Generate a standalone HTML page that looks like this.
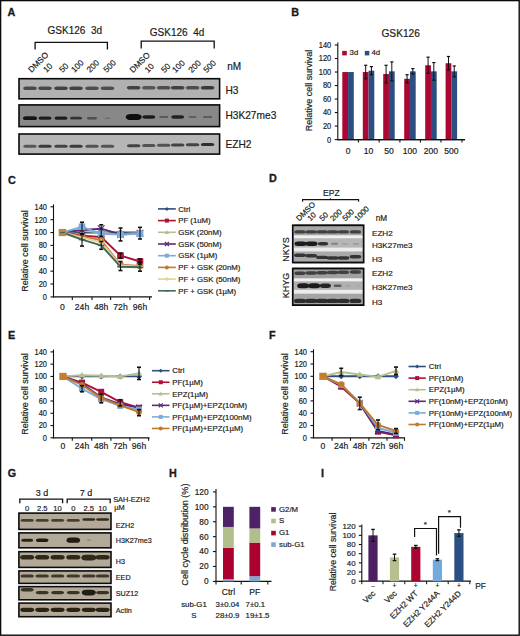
<!DOCTYPE html>
<html><head><meta charset="utf-8"><style>
html,body{margin:0;padding:0;background:#fff;}
svg{display:block;}
text{font-family:"Liberation Sans", sans-serif;}
</style></head><body>
<svg width="520" height="636" viewBox="0 0 520 636" font-family="Liberation Sans, sans-serif">
<defs><filter id="b1" x="-50%" y="-100%" width="200%" height="300%"><feGaussianBlur stdDeviation="0.6"/></filter></defs>
<rect x="0" y="0" width="520" height="636" fill="#fff"/>
<text x="7.60" y="16.30" font-size="10.8" font-weight="700" text-anchor="start" fill="#1a1a1a" stroke="#1a1a1a" stroke-width="0.3">A</text>
<text x="47.60" y="33.80" font-size="10.0" font-weight="400" text-anchor="start" fill="#1a1a1a" stroke="#1a1a1a" stroke-width="0.18">GSK126  3d</text>
<text x="149.80" y="36.20" font-size="10.0" font-weight="400" text-anchor="start" fill="#1a1a1a" stroke="#1a1a1a" stroke-width="0.18">GSK126  4d</text>
<path d="M35.1,49.4 V42.3 H107.4 V49.4" stroke="#111" stroke-width="1.3" fill="none"/>
<path d="M141.2,48.6 V41.2 H214.2 V48.6" stroke="#111" stroke-width="1.3" fill="none"/>
<text x="0.00" y="0.00" font-size="8.3" font-weight="400" text-anchor="start" fill="#1a1a1a" stroke="#1a1a1a" stroke-width="0.18" transform="translate(31.40,73.10) rotate(-45)">DMSO</text>
<text x="0.00" y="0.00" font-size="8.3" font-weight="400" text-anchor="start" fill="#1a1a1a" stroke="#1a1a1a" stroke-width="0.18" transform="translate(46.40,73.10) rotate(-45)">10</text>
<text x="0.00" y="0.00" font-size="8.3" font-weight="400" text-anchor="start" fill="#1a1a1a" stroke="#1a1a1a" stroke-width="0.18" transform="translate(62.40,73.10) rotate(-45)">50</text>
<text x="0.00" y="0.00" font-size="8.3" font-weight="400" text-anchor="start" fill="#1a1a1a" stroke="#1a1a1a" stroke-width="0.18" transform="translate(74.40,73.10) rotate(-45)">100</text>
<text x="0.00" y="0.00" font-size="8.3" font-weight="400" text-anchor="start" fill="#1a1a1a" stroke="#1a1a1a" stroke-width="0.18" transform="translate(89.90,73.10) rotate(-45)">200</text>
<text x="0.00" y="0.00" font-size="8.3" font-weight="400" text-anchor="start" fill="#1a1a1a" stroke="#1a1a1a" stroke-width="0.18" transform="translate(106.70,73.10) rotate(-45)">500</text>
<text x="0.00" y="0.00" font-size="8.3" font-weight="400" text-anchor="start" fill="#1a1a1a" stroke="#1a1a1a" stroke-width="0.18" transform="translate(132.90,73.30) rotate(-45)">DMSO</text>
<text x="0.00" y="0.00" font-size="8.3" font-weight="400" text-anchor="start" fill="#1a1a1a" stroke="#1a1a1a" stroke-width="0.18" transform="translate(148.00,73.30) rotate(-45)">10</text>
<text x="0.00" y="0.00" font-size="8.3" font-weight="400" text-anchor="start" fill="#1a1a1a" stroke="#1a1a1a" stroke-width="0.18" transform="translate(164.60,73.30) rotate(-45)">50</text>
<text x="0.00" y="0.00" font-size="8.3" font-weight="400" text-anchor="start" fill="#1a1a1a" stroke="#1a1a1a" stroke-width="0.18" transform="translate(175.60,73.30) rotate(-45)">100</text>
<text x="0.00" y="0.00" font-size="8.3" font-weight="400" text-anchor="start" fill="#1a1a1a" stroke="#1a1a1a" stroke-width="0.18" transform="translate(191.80,73.30) rotate(-45)">200</text>
<text x="0.00" y="0.00" font-size="8.3" font-weight="400" text-anchor="start" fill="#1a1a1a" stroke="#1a1a1a" stroke-width="0.18" transform="translate(206.80,73.30) rotate(-45)">500</text>
<text x="227.20" y="69.50" font-size="10" font-weight="400" text-anchor="start" fill="#1a1a1a" stroke="#1a1a1a" stroke-width="0.18">nM</text>
<rect x="19.00" y="78.70" width="200.60" height="20.10" fill="#b1b1b1" stroke="#0a0a0a" stroke-width="1.6"/>
<rect x="19.00" y="104.90" width="200.60" height="21.70" fill="#888888" stroke="#0a0a0a" stroke-width="1.6"/>
<rect x="19.00" y="134.00" width="200.60" height="20.10" fill="#b6b6b6" stroke="#0a0a0a" stroke-width="1.6"/>
<rect x="23.25" y="86.40" width="13.50" height="3.60" rx="2.88" ry="1.80" fill="#2e2e2e" fill-opacity="0.80" filter="url(#b1)"/>
<rect x="38.25" y="86.40" width="13.50" height="3.60" rx="2.88" ry="1.80" fill="#2e2e2e" fill-opacity="0.80" filter="url(#b1)"/>
<rect x="54.25" y="86.40" width="13.50" height="3.60" rx="2.88" ry="1.80" fill="#2e2e2e" fill-opacity="0.85" filter="url(#b1)"/>
<rect x="69.25" y="86.40" width="13.50" height="3.60" rx="2.88" ry="1.80" fill="#2e2e2e" fill-opacity="0.85" filter="url(#b1)"/>
<rect x="85.25" y="86.40" width="13.50" height="3.60" rx="2.88" ry="1.80" fill="#2e2e2e" fill-opacity="0.75" filter="url(#b1)"/>
<rect x="100.75" y="86.40" width="13.50" height="3.60" rx="2.88" ry="1.80" fill="#2e2e2e" fill-opacity="0.75" filter="url(#b1)"/>
<rect x="126.95" y="86.00" width="13.50" height="3.60" rx="2.88" ry="1.80" fill="#2e2e2e" fill-opacity="0.85" filter="url(#b1)"/>
<rect x="142.05" y="86.00" width="13.50" height="3.60" rx="2.88" ry="1.80" fill="#2e2e2e" fill-opacity="0.70" filter="url(#b1)"/>
<rect x="156.95" y="86.00" width="13.50" height="3.60" rx="2.88" ry="1.80" fill="#2e2e2e" fill-opacity="0.75" filter="url(#b1)"/>
<rect x="170.95" y="86.00" width="13.50" height="3.60" rx="2.88" ry="1.80" fill="#2e2e2e" fill-opacity="0.85" filter="url(#b1)"/>
<rect x="185.85" y="86.00" width="13.50" height="3.60" rx="2.88" ry="1.80" fill="#2e2e2e" fill-opacity="0.75" filter="url(#b1)"/>
<rect x="200.85" y="86.00" width="13.50" height="3.60" rx="2.88" ry="1.80" fill="#2e2e2e" fill-opacity="0.90" filter="url(#b1)"/>
<rect x="23.00" y="116.30" width="14.00" height="3.80" rx="3.04" ry="1.90" fill="#111" fill-opacity="0.95" filter="url(#b1)"/>
<rect x="38.50" y="116.60" width="13.00" height="3.20" rx="2.56" ry="1.60" fill="#111" fill-opacity="0.88" filter="url(#b1)"/>
<rect x="54.50" y="116.60" width="13.00" height="3.20" rx="2.56" ry="1.60" fill="#111" fill-opacity="0.88" filter="url(#b1)"/>
<rect x="70.00" y="116.80" width="12.00" height="2.80" rx="2.24" ry="1.40" fill="#111" fill-opacity="0.70" filter="url(#b1)"/>
<rect x="87.00" y="117.00" width="10.00" height="2.40" rx="1.92" ry="1.20" fill="#111" fill-opacity="0.50" filter="url(#b1)"/>
<rect x="104.50" y="117.40" width="6.00" height="1.60" rx="1.28" ry="0.80" fill="#111" fill-opacity="0.20" filter="url(#b1)"/>
<rect x="125.70" y="113.90" width="16.00" height="6.20" rx="4.96" ry="3.10" fill="#111" fill-opacity="1.00" filter="url(#b1)"/>
<rect x="142.30" y="115.30" width="13.00" height="3.40" rx="2.72" ry="1.70" fill="#111" fill-opacity="0.90" filter="url(#b1)"/>
<rect x="159.20" y="116.00" width="9.00" height="2.00" rx="1.60" ry="1.00" fill="#111" fill-opacity="0.40" filter="url(#b1)"/>
<rect x="171.20" y="115.30" width="13.00" height="3.40" rx="2.72" ry="1.70" fill="#111" fill-opacity="0.85" filter="url(#b1)"/>
<rect x="188.60" y="116.10" width="8.00" height="1.80" rx="1.44" ry="0.90" fill="#111" fill-opacity="0.30" filter="url(#b1)"/>
<rect x="203.10" y="116.00" width="9.00" height="2.00" rx="1.60" ry="1.00" fill="#111" fill-opacity="0.40" filter="url(#b1)"/>
<rect x="23.25" y="144.70" width="13.50" height="3.00" rx="2.40" ry="1.50" fill="#262626" fill-opacity="0.65" filter="url(#b1)"/>
<rect x="38.25" y="144.70" width="13.50" height="3.00" rx="2.40" ry="1.50" fill="#262626" fill-opacity="0.85" filter="url(#b1)"/>
<rect x="54.25" y="144.70" width="13.50" height="3.00" rx="2.40" ry="1.50" fill="#262626" fill-opacity="0.80" filter="url(#b1)"/>
<rect x="69.25" y="144.70" width="13.50" height="3.00" rx="2.40" ry="1.50" fill="#262626" fill-opacity="0.85" filter="url(#b1)"/>
<rect x="85.25" y="144.70" width="13.50" height="3.00" rx="2.40" ry="1.50" fill="#262626" fill-opacity="0.70" filter="url(#b1)"/>
<rect x="100.75" y="144.70" width="13.50" height="3.00" rx="2.40" ry="1.50" fill="#262626" fill-opacity="0.70" filter="url(#b1)"/>
<rect x="126.95" y="144.30" width="13.50" height="3.00" rx="2.40" ry="1.50" fill="#262626" fill-opacity="0.80" filter="url(#b1)"/>
<rect x="142.05" y="144.05" width="13.50" height="3.00" rx="2.40" ry="1.50" fill="#262626" fill-opacity="0.70" filter="url(#b1)"/>
<rect x="156.95" y="143.80" width="13.50" height="3.00" rx="2.40" ry="1.50" fill="#262626" fill-opacity="0.70" filter="url(#b1)"/>
<rect x="170.95" y="143.55" width="13.50" height="3.00" rx="2.40" ry="1.50" fill="#262626" fill-opacity="0.80" filter="url(#b1)"/>
<rect x="185.85" y="143.30" width="13.50" height="3.00" rx="2.40" ry="1.50" fill="#262626" fill-opacity="0.80" filter="url(#b1)"/>
<rect x="200.85" y="143.05" width="13.50" height="3.00" rx="2.40" ry="1.50" fill="#262626" fill-opacity="0.95" filter="url(#b1)"/>
<text x="225.40" y="93.70" font-size="10.2" font-weight="400" text-anchor="start" fill="#1a1a1a" stroke="#1a1a1a" stroke-width="0.18">H3</text>
<text x="225.40" y="118.80" font-size="10.2" font-weight="400" text-anchor="start" fill="#1a1a1a" stroke="#1a1a1a" stroke-width="0.18">H3K27me3</text>
<text x="225.40" y="148.10" font-size="10.2" font-weight="400" text-anchor="start" fill="#1a1a1a" stroke="#1a1a1a" stroke-width="0.18">EZH2</text>
<text x="291.20" y="16.40" font-size="10.8" font-weight="700" text-anchor="start" fill="#1a1a1a" stroke="#1a1a1a" stroke-width="0.3">B</text>
<text x="400.70" y="36.50" font-size="10.2" font-weight="400" text-anchor="middle" fill="#1a1a1a" stroke="#1a1a1a" stroke-width="0.18">GSK126</text>
<line x1="337.80" y1="42.40" x2="337.80" y2="140.10" stroke="#111" stroke-width="1.1"/>
<line x1="334.80" y1="139.60" x2="337.80" y2="139.60" stroke="#111" stroke-width="1.1"/>
<text x="0.00" y="0.00" font-size="8.2" font-weight="400" text-anchor="end" fill="#1a1a1a" stroke="#1a1a1a" stroke-width="0.18" transform="translate(331.20,142.50) scale(0.91,1)">0</text>
<line x1="334.80" y1="126.09" x2="337.80" y2="126.09" stroke="#111" stroke-width="1.1"/>
<text x="0.00" y="0.00" font-size="8.2" font-weight="400" text-anchor="end" fill="#1a1a1a" stroke="#1a1a1a" stroke-width="0.18" transform="translate(331.20,128.99) scale(0.91,1)">20</text>
<line x1="334.80" y1="112.57" x2="337.80" y2="112.57" stroke="#111" stroke-width="1.1"/>
<text x="0.00" y="0.00" font-size="8.2" font-weight="400" text-anchor="end" fill="#1a1a1a" stroke="#1a1a1a" stroke-width="0.18" transform="translate(331.20,115.47) scale(0.91,1)">40</text>
<line x1="334.80" y1="99.06" x2="337.80" y2="99.06" stroke="#111" stroke-width="1.1"/>
<text x="0.00" y="0.00" font-size="8.2" font-weight="400" text-anchor="end" fill="#1a1a1a" stroke="#1a1a1a" stroke-width="0.18" transform="translate(331.20,101.96) scale(0.91,1)">60</text>
<line x1="334.80" y1="85.54" x2="337.80" y2="85.54" stroke="#111" stroke-width="1.1"/>
<text x="0.00" y="0.00" font-size="8.2" font-weight="400" text-anchor="end" fill="#1a1a1a" stroke="#1a1a1a" stroke-width="0.18" transform="translate(331.20,88.44) scale(0.91,1)">80</text>
<line x1="334.80" y1="72.03" x2="337.80" y2="72.03" stroke="#111" stroke-width="1.1"/>
<text x="0.00" y="0.00" font-size="8.2" font-weight="400" text-anchor="end" fill="#1a1a1a" stroke="#1a1a1a" stroke-width="0.18" transform="translate(331.20,74.93) scale(0.91,1)">100</text>
<line x1="334.80" y1="58.51" x2="337.80" y2="58.51" stroke="#111" stroke-width="1.1"/>
<text x="0.00" y="0.00" font-size="8.2" font-weight="400" text-anchor="end" fill="#1a1a1a" stroke="#1a1a1a" stroke-width="0.18" transform="translate(331.20,61.41) scale(0.91,1)">120</text>
<line x1="334.80" y1="45.00" x2="337.80" y2="45.00" stroke="#111" stroke-width="1.1"/>
<text x="0.00" y="0.00" font-size="8.2" font-weight="400" text-anchor="end" fill="#1a1a1a" stroke="#1a1a1a" stroke-width="0.18" transform="translate(331.20,47.90) scale(0.91,1)">140</text>
<line x1="337.20" y1="139.60" x2="465.00" y2="139.60" stroke="#111" stroke-width="1.2"/>
<line x1="358.40" y1="139.60" x2="358.40" y2="142.60" stroke="#111" stroke-width="1.1"/>
<line x1="379.20" y1="139.60" x2="379.20" y2="142.60" stroke="#111" stroke-width="1.1"/>
<line x1="399.90" y1="139.60" x2="399.90" y2="142.60" stroke="#111" stroke-width="1.1"/>
<line x1="420.40" y1="139.60" x2="420.40" y2="142.60" stroke="#111" stroke-width="1.1"/>
<line x1="441.00" y1="139.60" x2="441.00" y2="142.60" stroke="#111" stroke-width="1.1"/>
<line x1="462.00" y1="139.60" x2="462.00" y2="142.60" stroke="#111" stroke-width="1.1"/>
<text x="0.00" y="0.00" font-size="9.0" font-weight="400" text-anchor="middle" fill="#1a1a1a" stroke="#1a1a1a" stroke-width="0.18" transform="translate(312.30,90.50) rotate(-90)">Relative cell survival</text>
<rect x="342.30" y="72.03" width="5.75" height="67.57" fill="#ab0733" stroke="none" stroke-width="0"/>
<rect x="348.05" y="72.03" width="5.75" height="67.57" fill="#2c4e80" stroke="none" stroke-width="0"/>
<text x="348.05" y="154.30" font-size="8.6" font-weight="400" text-anchor="middle" fill="#1a1a1a" stroke="#1a1a1a" stroke-width="0.18">0</text>
<rect x="362.80" y="72.03" width="5.75" height="67.57" fill="#ab0733" stroke="none" stroke-width="0"/>
<rect x="368.55" y="70.68" width="5.75" height="68.92" fill="#2c4e80" stroke="none" stroke-width="0"/>
<line x1="365.68" y1="65.27" x2="365.68" y2="78.79" stroke="#111" stroke-width="1.0"/>
<line x1="364.07" y1="65.27" x2="367.28" y2="65.27" stroke="#111" stroke-width="1.2"/>
<line x1="364.07" y1="78.79" x2="367.28" y2="78.79" stroke="#111" stroke-width="1.2"/>
<line x1="371.43" y1="66.62" x2="371.43" y2="74.73" stroke="#111" stroke-width="1.0"/>
<line x1="369.82" y1="66.62" x2="373.03" y2="66.62" stroke="#111" stroke-width="1.2"/>
<line x1="369.82" y1="74.73" x2="373.03" y2="74.73" stroke="#111" stroke-width="1.2"/>
<text x="368.55" y="154.30" font-size="8.6" font-weight="400" text-anchor="middle" fill="#1a1a1a" stroke="#1a1a1a" stroke-width="0.18">10</text>
<rect x="383.20" y="74.06" width="5.75" height="65.54" fill="#ab0733" stroke="none" stroke-width="0"/>
<rect x="388.95" y="71.35" width="5.75" height="68.25" fill="#2c4e80" stroke="none" stroke-width="0"/>
<line x1="386.07" y1="65.27" x2="386.07" y2="82.84" stroke="#111" stroke-width="1.0"/>
<line x1="384.47" y1="65.27" x2="387.68" y2="65.27" stroke="#111" stroke-width="1.2"/>
<line x1="384.47" y1="82.84" x2="387.68" y2="82.84" stroke="#111" stroke-width="1.2"/>
<line x1="391.82" y1="61.89" x2="391.82" y2="80.81" stroke="#111" stroke-width="1.0"/>
<line x1="390.22" y1="61.89" x2="393.43" y2="61.89" stroke="#111" stroke-width="1.2"/>
<line x1="390.22" y1="80.81" x2="393.43" y2="80.81" stroke="#111" stroke-width="1.2"/>
<text x="388.95" y="154.30" font-size="8.6" font-weight="400" text-anchor="middle" fill="#1a1a1a" stroke="#1a1a1a" stroke-width="0.18">50</text>
<rect x="404.20" y="78.79" width="5.75" height="60.81" fill="#ab0733" stroke="none" stroke-width="0"/>
<rect x="409.95" y="71.35" width="5.75" height="68.25" fill="#2c4e80" stroke="none" stroke-width="0"/>
<line x1="407.07" y1="74.73" x2="407.07" y2="82.84" stroke="#111" stroke-width="1.0"/>
<line x1="405.47" y1="74.73" x2="408.68" y2="74.73" stroke="#111" stroke-width="1.2"/>
<line x1="405.47" y1="82.84" x2="408.68" y2="82.84" stroke="#111" stroke-width="1.2"/>
<line x1="412.82" y1="68.65" x2="412.82" y2="74.06" stroke="#111" stroke-width="1.0"/>
<line x1="411.22" y1="68.65" x2="414.43" y2="68.65" stroke="#111" stroke-width="1.2"/>
<line x1="411.22" y1="74.06" x2="414.43" y2="74.06" stroke="#111" stroke-width="1.2"/>
<text x="409.95" y="154.30" font-size="8.6" font-weight="400" text-anchor="middle" fill="#1a1a1a" stroke="#1a1a1a" stroke-width="0.18">100</text>
<rect x="425.20" y="65.27" width="5.75" height="74.33" fill="#ab0733" stroke="none" stroke-width="0"/>
<rect x="430.95" y="71.35" width="5.75" height="68.25" fill="#2c4e80" stroke="none" stroke-width="0"/>
<line x1="428.07" y1="57.16" x2="428.07" y2="73.38" stroke="#111" stroke-width="1.0"/>
<line x1="426.47" y1="57.16" x2="429.68" y2="57.16" stroke="#111" stroke-width="1.2"/>
<line x1="426.47" y1="73.38" x2="429.68" y2="73.38" stroke="#111" stroke-width="1.2"/>
<line x1="433.82" y1="62.57" x2="433.82" y2="80.14" stroke="#111" stroke-width="1.0"/>
<line x1="432.22" y1="62.57" x2="435.43" y2="62.57" stroke="#111" stroke-width="1.2"/>
<line x1="432.22" y1="80.14" x2="435.43" y2="80.14" stroke="#111" stroke-width="1.2"/>
<text x="430.95" y="154.30" font-size="8.6" font-weight="400" text-anchor="middle" fill="#1a1a1a" stroke="#1a1a1a" stroke-width="0.18">200</text>
<rect x="445.60" y="63.24" width="5.75" height="76.36" fill="#ab0733" stroke="none" stroke-width="0"/>
<rect x="451.35" y="71.35" width="5.75" height="68.25" fill="#2c4e80" stroke="none" stroke-width="0"/>
<line x1="448.48" y1="56.49" x2="448.48" y2="70.00" stroke="#111" stroke-width="1.0"/>
<line x1="446.88" y1="56.49" x2="450.08" y2="56.49" stroke="#111" stroke-width="1.2"/>
<line x1="446.88" y1="70.00" x2="450.08" y2="70.00" stroke="#111" stroke-width="1.2"/>
<line x1="454.23" y1="65.95" x2="454.23" y2="76.76" stroke="#111" stroke-width="1.0"/>
<line x1="452.62" y1="65.95" x2="455.83" y2="65.95" stroke="#111" stroke-width="1.2"/>
<line x1="452.62" y1="76.76" x2="455.83" y2="76.76" stroke="#111" stroke-width="1.2"/>
<text x="451.35" y="154.30" font-size="8.6" font-weight="400" text-anchor="middle" fill="#1a1a1a" stroke="#1a1a1a" stroke-width="0.18">500</text>
<line x1="337.20" y1="139.60" x2="465.00" y2="139.60" stroke="#111" stroke-width="1.2"/>
<rect x="342.20" y="50.90" width="4.60" height="4.50" fill="#ab0733" stroke="none" stroke-width="0"/>
<text x="349.60" y="55.40" font-size="7.8" font-weight="400" text-anchor="start" fill="#1a1a1a" stroke="#1a1a1a" stroke-width="0.18">3d</text>
<rect x="364.80" y="50.90" width="4.50" height="4.50" fill="#2c4e80" stroke="none" stroke-width="0"/>
<text x="371.50" y="55.40" font-size="7.8" font-weight="400" text-anchor="start" fill="#1a1a1a" stroke="#1a1a1a" stroke-width="0.18">4d</text>
<text x="7.90" y="184.20" font-size="10.8" font-weight="700" text-anchor="start" fill="#1a1a1a" stroke="#1a1a1a" stroke-width="0.3">C</text>
<line x1="53.50" y1="204.40" x2="53.50" y2="297.40" stroke="#111" stroke-width="1.1"/>
<line x1="50.50" y1="296.90" x2="53.50" y2="296.90" stroke="#111" stroke-width="1.1"/>
<text x="0.00" y="0.00" font-size="8.2" font-weight="400" text-anchor="end" fill="#1a1a1a" stroke="#1a1a1a" stroke-width="0.18" transform="translate(47.00,299.80) scale(0.91,1)">0</text>
<line x1="50.50" y1="284.03" x2="53.50" y2="284.03" stroke="#111" stroke-width="1.1"/>
<text x="0.00" y="0.00" font-size="8.2" font-weight="400" text-anchor="end" fill="#1a1a1a" stroke="#1a1a1a" stroke-width="0.18" transform="translate(47.00,286.93) scale(0.91,1)">20</text>
<line x1="50.50" y1="271.16" x2="53.50" y2="271.16" stroke="#111" stroke-width="1.1"/>
<text x="0.00" y="0.00" font-size="8.2" font-weight="400" text-anchor="end" fill="#1a1a1a" stroke="#1a1a1a" stroke-width="0.18" transform="translate(47.00,274.06) scale(0.91,1)">40</text>
<line x1="50.50" y1="258.29" x2="53.50" y2="258.29" stroke="#111" stroke-width="1.1"/>
<text x="0.00" y="0.00" font-size="8.2" font-weight="400" text-anchor="end" fill="#1a1a1a" stroke="#1a1a1a" stroke-width="0.18" transform="translate(47.00,261.19) scale(0.91,1)">60</text>
<line x1="50.50" y1="245.41" x2="53.50" y2="245.41" stroke="#111" stroke-width="1.1"/>
<text x="0.00" y="0.00" font-size="8.2" font-weight="400" text-anchor="end" fill="#1a1a1a" stroke="#1a1a1a" stroke-width="0.18" transform="translate(47.00,248.31) scale(0.91,1)">80</text>
<line x1="50.50" y1="232.54" x2="53.50" y2="232.54" stroke="#111" stroke-width="1.1"/>
<text x="0.00" y="0.00" font-size="8.2" font-weight="400" text-anchor="end" fill="#1a1a1a" stroke="#1a1a1a" stroke-width="0.18" transform="translate(47.00,235.44) scale(0.91,1)">100</text>
<line x1="50.50" y1="219.67" x2="53.50" y2="219.67" stroke="#111" stroke-width="1.1"/>
<text x="0.00" y="0.00" font-size="8.2" font-weight="400" text-anchor="end" fill="#1a1a1a" stroke="#1a1a1a" stroke-width="0.18" transform="translate(47.00,222.57) scale(0.91,1)">120</text>
<line x1="50.50" y1="206.80" x2="53.50" y2="206.80" stroke="#111" stroke-width="1.1"/>
<text x="0.00" y="0.00" font-size="8.2" font-weight="400" text-anchor="end" fill="#1a1a1a" stroke="#1a1a1a" stroke-width="0.18" transform="translate(47.00,209.70) scale(0.91,1)">140</text>
<line x1="53.00" y1="296.90" x2="152.00" y2="296.90" stroke="#111" stroke-width="1.2"/>
<line x1="72.30" y1="296.90" x2="72.30" y2="299.90" stroke="#111" stroke-width="1.1"/>
<line x1="92.00" y1="296.90" x2="92.00" y2="299.90" stroke="#111" stroke-width="1.1"/>
<line x1="110.60" y1="296.90" x2="110.60" y2="299.90" stroke="#111" stroke-width="1.1"/>
<line x1="130.00" y1="296.90" x2="130.00" y2="299.90" stroke="#111" stroke-width="1.1"/>
<line x1="149.60" y1="296.90" x2="149.60" y2="299.90" stroke="#111" stroke-width="1.1"/>
<text x="62.40" y="309.80" font-size="8.6" font-weight="400" text-anchor="middle" fill="#1a1a1a" stroke="#1a1a1a" stroke-width="0.18">0</text>
<text x="82.00" y="309.80" font-size="8.6" font-weight="400" text-anchor="middle" fill="#1a1a1a" stroke="#1a1a1a" stroke-width="0.18">24h</text>
<text x="101.20" y="309.80" font-size="8.6" font-weight="400" text-anchor="middle" fill="#1a1a1a" stroke="#1a1a1a" stroke-width="0.18">48h</text>
<text x="120.50" y="309.80" font-size="8.6" font-weight="400" text-anchor="middle" fill="#1a1a1a" stroke="#1a1a1a" stroke-width="0.18">72h</text>
<text x="140.00" y="309.80" font-size="8.6" font-weight="400" text-anchor="middle" fill="#1a1a1a" stroke="#1a1a1a" stroke-width="0.18">96h</text>
<polyline points="62.4,232.5 82.0,232.5 101.2,232.5 120.5,232.5 140.0,232.5" fill="none" stroke="#2e4f7f" stroke-width="1.9" stroke-linejoin="round"/>
<path d="M82.0,229.24285714285713 L85.3,232.54285714285714 L82.0,235.84285714285716 L78.7,232.54285714285714 Z" fill="#2e4f7f"/>
<path d="M101.2,229.24285714285713 L104.5,232.54285714285714 L101.2,235.84285714285716 L97.9,232.54285714285714 Z" fill="#2e4f7f"/>
<path d="M120.5,229.24285714285713 L123.8,232.54285714285714 L120.5,235.84285714285716 L117.2,232.54285714285714 Z" fill="#2e4f7f"/>
<path d="M140.0,229.24285714285713 L143.3,232.54285714285714 L140.0,235.84285714285716 L136.7,232.54285714285714 Z" fill="#2e4f7f"/>
<polyline points="62.4,232.5 82.0,235.8 101.2,237.0 120.5,255.7 140.0,261.5" fill="none" stroke="#ae1138" stroke-width="1.9" stroke-linejoin="round"/>
<rect x="78.70" y="232.46" width="6.60" height="6.60" fill="#ae1138"/>
<rect x="97.90" y="233.75" width="6.60" height="6.60" fill="#ae1138"/>
<rect x="117.20" y="252.41" width="6.60" height="6.60" fill="#ae1138"/>
<rect x="136.70" y="258.20" width="6.60" height="6.60" fill="#ae1138"/>
<polyline points="62.4,232.5 82.0,230.6 101.2,232.5 120.5,234.5 140.0,232.5" fill="none" stroke="#b5bf8f" stroke-width="1.9" stroke-linejoin="round"/>
<path d="M82.0,226.98214285714286 L85.63,233.25214285714284 L78.37,233.25214285714284 Z" fill="#b5bf8f"/>
<path d="M101.2,228.91285714285715 L104.83,235.18285714285713 L97.57000000000001,235.18285714285713 Z" fill="#b5bf8f"/>
<path d="M120.5,230.84357142857144 L124.13,237.11357142857142 L116.87,237.11357142857142 Z" fill="#b5bf8f"/>
<path d="M140.0,228.91285714285715 L143.63,235.18285714285713 L136.37,235.18285714285713 Z" fill="#b5bf8f"/>
<polyline points="62.4,232.5 82.0,230.0 101.2,228.7 120.5,234.5 140.0,233.2" fill="none" stroke="#5a2a77" stroke-width="1.9" stroke-linejoin="round"/>
<path d="M78.7,226.6685714285714 L85.3,233.26857142857142 M78.7,233.26857142857142 L85.3,226.6685714285714" stroke="#5a2a77" stroke-width="1.2"/>
<path d="M97.9,225.38142857142856 L104.5,231.98142857142858 M97.9,231.98142857142858 L104.5,225.38142857142856" stroke="#5a2a77" stroke-width="1.2"/>
<path d="M117.2,231.17357142857142 L123.8,237.77357142857144 M117.2,237.77357142857144 L123.8,231.17357142857142" stroke="#5a2a77" stroke-width="1.2"/>
<path d="M136.7,229.88642857142855 L143.3,236.48642857142858 M136.7,236.48642857142858 L143.3,229.88642857142855" stroke="#5a2a77" stroke-width="1.2"/>
<polyline points="62.4,232.5 82.0,226.8 101.2,233.8 120.5,234.5 140.0,233.8" fill="none" stroke="#79acdc" stroke-width="1.9" stroke-linejoin="round"/>
<rect x="78.70" y="223.45" width="6.60" height="6.60" fill="#79acdc"/>
<rect x="97.90" y="230.53" width="6.60" height="6.60" fill="#79acdc"/>
<rect x="117.20" y="231.17" width="6.60" height="6.60" fill="#79acdc"/>
<rect x="136.70" y="230.53" width="6.60" height="6.60" fill="#79acdc"/>
<polyline points="62.4,232.5 82.0,236.4 101.2,240.3 120.5,264.7 140.0,266.0" fill="none" stroke="#c07a30" stroke-width="1.9" stroke-linejoin="round"/>
<circle cx="82.0" cy="236.40428571428572" r="3.3" fill="#c07a30"/>
<circle cx="101.2" cy="240.2657142857143" r="3.3" fill="#c07a30"/>
<circle cx="120.5" cy="264.72142857142853" r="3.3" fill="#c07a30"/>
<circle cx="140.0" cy="266.00857142857143" r="3.3" fill="#c07a30"/>
<polyline points="62.4,232.5 82.0,237.7 101.2,242.2 120.5,265.4 140.0,266.7" fill="none" stroke="#e6cf94" stroke-width="1.9" stroke-linejoin="round"/>
<path d="M78.7,237.69142857142856 L85.3,237.69142857142856 M82.0,234.39142857142855 L82.0,240.99142857142857" stroke="#e6cf94" stroke-width="1.2"/>
<path d="M97.9,242.19642857142856 L104.5,242.19642857142856 M101.2,238.89642857142854 L101.2,245.49642857142857" stroke="#e6cf94" stroke-width="1.2"/>
<path d="M117.2,265.365 L123.8,265.365 M120.5,262.065 L120.5,268.665" stroke="#e6cf94" stroke-width="1.2"/>
<path d="M136.7,266.65214285714285 L143.3,266.65214285714285 M140.0,263.35214285714284 L140.0,269.95214285714286" stroke="#e6cf94" stroke-width="1.2"/>
<polyline points="62.4,232.5 82.0,239.6 101.2,245.4 120.5,266.7 140.0,267.3" fill="none" stroke="#3f6a5a" stroke-width="1.9" stroke-linejoin="round"/>
<path d="M78.7,239.62214285714285 L85.3,239.62214285714285" stroke="#3f6a5a" stroke-width="1.4"/>
<path d="M97.9,245.4142857142857 L104.5,245.4142857142857" stroke="#3f6a5a" stroke-width="1.4"/>
<path d="M117.2,266.65214285714285 L123.8,266.65214285714285" stroke="#3f6a5a" stroke-width="1.4"/>
<path d="M136.7,267.29571428571427 L143.3,267.29571428571427" stroke="#3f6a5a" stroke-width="1.4"/>
<line x1="82.00" y1="234.47" x2="82.00" y2="246.06" stroke="#111" stroke-width="1.1"/>
<line x1="80.00" y1="234.47" x2="84.00" y2="234.47" stroke="#111" stroke-width="1.6"/>
<line x1="80.00" y1="246.06" x2="84.00" y2="246.06" stroke="#111" stroke-width="1.6"/>
<line x1="82.00" y1="222.25" x2="82.00" y2="233.83" stroke="#111" stroke-width="1.1"/>
<line x1="80.00" y1="222.25" x2="84.00" y2="222.25" stroke="#111" stroke-width="1.6"/>
<line x1="80.00" y1="233.83" x2="84.00" y2="233.83" stroke="#111" stroke-width="1.6"/>
<line x1="101.20" y1="224.82" x2="101.20" y2="236.40" stroke="#111" stroke-width="1.1"/>
<line x1="99.20" y1="224.82" x2="103.20" y2="224.82" stroke="#111" stroke-width="1.6"/>
<line x1="99.20" y1="236.40" x2="103.20" y2="236.40" stroke="#111" stroke-width="1.6"/>
<line x1="101.20" y1="241.55" x2="101.20" y2="249.28" stroke="#111" stroke-width="1.1"/>
<line x1="99.20" y1="241.55" x2="103.20" y2="241.55" stroke="#111" stroke-width="1.6"/>
<line x1="99.20" y1="249.28" x2="103.20" y2="249.28" stroke="#111" stroke-width="1.6"/>
<line x1="120.50" y1="228.04" x2="120.50" y2="240.91" stroke="#111" stroke-width="1.1"/>
<line x1="118.50" y1="228.04" x2="122.50" y2="228.04" stroke="#111" stroke-width="1.6"/>
<line x1="118.50" y1="240.91" x2="122.50" y2="240.91" stroke="#111" stroke-width="1.6"/>
<line x1="120.50" y1="261.50" x2="120.50" y2="270.51" stroke="#111" stroke-width="1.1"/>
<line x1="118.50" y1="261.50" x2="122.50" y2="261.50" stroke="#111" stroke-width="1.6"/>
<line x1="118.50" y1="270.51" x2="122.50" y2="270.51" stroke="#111" stroke-width="1.6"/>
<line x1="120.50" y1="253.14" x2="120.50" y2="258.29" stroke="#111" stroke-width="1.1"/>
<line x1="118.50" y1="253.14" x2="122.50" y2="253.14" stroke="#111" stroke-width="1.6"/>
<line x1="118.50" y1="258.29" x2="122.50" y2="258.29" stroke="#111" stroke-width="1.6"/>
<line x1="140.00" y1="227.39" x2="140.00" y2="238.98" stroke="#111" stroke-width="1.1"/>
<line x1="138.00" y1="227.39" x2="142.00" y2="227.39" stroke="#111" stroke-width="1.6"/>
<line x1="138.00" y1="238.98" x2="142.00" y2="238.98" stroke="#111" stroke-width="1.6"/>
<line x1="140.00" y1="262.15" x2="140.00" y2="271.16" stroke="#111" stroke-width="1.1"/>
<line x1="138.00" y1="262.15" x2="142.00" y2="262.15" stroke="#111" stroke-width="1.6"/>
<line x1="138.00" y1="271.16" x2="142.00" y2="271.16" stroke="#111" stroke-width="1.6"/>
<line x1="140.00" y1="258.93" x2="140.00" y2="264.08" stroke="#111" stroke-width="1.1"/>
<line x1="138.00" y1="258.93" x2="142.00" y2="258.93" stroke="#111" stroke-width="1.6"/>
<line x1="138.00" y1="264.08" x2="142.00" y2="264.08" stroke="#111" stroke-width="1.6"/>
<rect x="58.70" y="228.94" width="7.4" height="7.2" fill="#b8893f"/>
<path d="M59.9,232.54285714285714 L64.9,232.54285714285714" stroke="#3f6a5a" stroke-width="1.2"/>
<text x="0.00" y="0.00" font-size="9.0" font-weight="400" text-anchor="middle" fill="#1a1a1a" stroke="#1a1a1a" stroke-width="0.18" transform="translate(27.50,251.00) rotate(-90)">Relative cell survival</text>
<line x1="158.00" y1="208.90" x2="175.80" y2="208.90" stroke="#2e4f7f" stroke-width="1.6"/>
<path d="M166.9,206.9 L168.9,208.9 L166.9,210.9 L164.9,208.9 Z" fill="#2e4f7f"/>
<text x="178.20" y="211.60" font-size="7.8" font-weight="400" text-anchor="start" fill="#1a1a1a" stroke="#1a1a1a" stroke-width="0.18">Ctrl</text>
<line x1="158.00" y1="220.60" x2="175.80" y2="220.60" stroke="#ae1138" stroke-width="1.6"/>
<rect x="164.90" y="218.60" width="4.00" height="4.00" fill="#ae1138"/>
<text x="178.20" y="223.30" font-size="7.8" font-weight="400" text-anchor="start" fill="#1a1a1a" stroke="#1a1a1a" stroke-width="0.18">PF (1uM)</text>
<line x1="158.00" y1="232.30" x2="175.80" y2="232.30" stroke="#b5bf8f" stroke-width="1.6"/>
<path d="M166.9,230.10000000000002 L169.1,233.9 L164.70000000000002,233.9 Z" fill="#b5bf8f"/>
<text x="178.20" y="235.00" font-size="7.8" font-weight="400" text-anchor="start" fill="#1a1a1a" stroke="#1a1a1a" stroke-width="0.18">GSK (20nM)</text>
<line x1="158.00" y1="244.00" x2="175.80" y2="244.00" stroke="#5a2a77" stroke-width="1.6"/>
<path d="M164.9,242.0 L168.9,246.0 M164.9,246.0 L168.9,242.0" stroke="#5a2a77" stroke-width="1.2"/>
<text x="178.20" y="246.70" font-size="7.8" font-weight="400" text-anchor="start" fill="#1a1a1a" stroke="#1a1a1a" stroke-width="0.18">GSK (50nM)</text>
<line x1="158.00" y1="255.70" x2="175.80" y2="255.70" stroke="#79acdc" stroke-width="1.6"/>
<rect x="164.90" y="253.70" width="4.00" height="4.00" fill="#79acdc"/>
<text x="178.20" y="258.40" font-size="7.8" font-weight="400" text-anchor="start" fill="#1a1a1a" stroke="#1a1a1a" stroke-width="0.18">GSK (1µM)</text>
<line x1="158.00" y1="267.40" x2="175.80" y2="267.40" stroke="#c07a30" stroke-width="1.6"/>
<circle cx="166.9" cy="267.4" r="2.0" fill="#c07a30"/>
<text x="178.20" y="270.10" font-size="7.8" font-weight="400" text-anchor="start" fill="#1a1a1a" stroke="#1a1a1a" stroke-width="0.18">PF + GSK (20nM)</text>
<line x1="158.00" y1="279.10" x2="175.80" y2="279.10" stroke="#e6cf94" stroke-width="1.6"/>
<path d="M164.9,279.1 L168.9,279.1 M166.9,277.1 L166.9,281.1" stroke="#e6cf94" stroke-width="1.2"/>
<text x="178.20" y="281.80" font-size="7.8" font-weight="400" text-anchor="start" fill="#1a1a1a" stroke="#1a1a1a" stroke-width="0.18">PF + GSK (50nM)</text>
<line x1="158.00" y1="290.80" x2="175.80" y2="290.80" stroke="#3f6a5a" stroke-width="1.6"/>
<path d="M164.9,290.8 L168.9,290.8" stroke="#3f6a5a" stroke-width="1.4"/>
<text x="178.20" y="293.50" font-size="7.8" font-weight="400" text-anchor="start" fill="#1a1a1a" stroke="#1a1a1a" stroke-width="0.18">PF + GSK (1µM)</text>
<text x="269.00" y="182.00" font-size="10.8" font-weight="700" text-anchor="start" fill="#1a1a1a" stroke="#1a1a1a" stroke-width="0.3">D</text>
<text x="331.30" y="195.80" font-size="8.6" font-weight="400" text-anchor="middle" fill="#1a1a1a" stroke="#1a1a1a" stroke-width="0.18">EPZ</text>
<path d="M302.6,201.8 V199.6 H358.6 V201.8 M330.4,199.6 V198.2" stroke="#111" stroke-width="1.1" fill="none"/>
<text x="0.00" y="0.00" font-size="7.8" font-weight="400" text-anchor="start" fill="#1a1a1a" stroke="#1a1a1a" stroke-width="0.18" transform="translate(299.30,221.60) rotate(-45)">DMSO</text>
<text x="0.00" y="0.00" font-size="7.8" font-weight="400" text-anchor="start" fill="#1a1a1a" stroke="#1a1a1a" stroke-width="0.18" transform="translate(310.50,221.60) rotate(-45)">10</text>
<text x="0.00" y="0.00" font-size="7.8" font-weight="400" text-anchor="start" fill="#1a1a1a" stroke="#1a1a1a" stroke-width="0.18" transform="translate(322.60,221.60) rotate(-45)">50</text>
<text x="0.00" y="0.00" font-size="7.8" font-weight="400" text-anchor="start" fill="#1a1a1a" stroke="#1a1a1a" stroke-width="0.18" transform="translate(333.30,221.60) rotate(-45)">200</text>
<text x="0.00" y="0.00" font-size="7.8" font-weight="400" text-anchor="start" fill="#1a1a1a" stroke="#1a1a1a" stroke-width="0.18" transform="translate(345.40,221.60) rotate(-45)">500</text>
<text x="0.00" y="0.00" font-size="7.8" font-weight="400" text-anchor="start" fill="#1a1a1a" stroke="#1a1a1a" stroke-width="0.18" transform="translate(357.40,221.60) rotate(-45)">1000</text>
<text x="375.80" y="220.70" font-size="8.2" font-weight="400" text-anchor="start" fill="#1a1a1a" stroke="#1a1a1a" stroke-width="0.18">nM</text>
<rect x="293.70" y="224.40" width="69.00" height="11.20" fill="#a7a7a7" stroke="none" stroke-width="0"/>
<rect x="293.70" y="235.60" width="69.00" height="2.60" fill="#f0f0f0" stroke="none" stroke-width="0"/>
<rect x="293.70" y="238.20" width="69.00" height="9.60" fill="#b6b6b6" stroke="none" stroke-width="0"/>
<rect x="293.70" y="247.80" width="69.00" height="3.60" fill="#ececec" stroke="none" stroke-width="0"/>
<rect x="293.70" y="251.40" width="69.00" height="12.00" fill="#a9a9a9" stroke="none" stroke-width="0"/>
<rect x="292.80" y="225.30" width="70.80" height="37.20" fill="none" stroke="#0b0b0b" stroke-width="1.8"/>
<text x="0.00" y="0.00" font-size="9.0" font-weight="400" text-anchor="middle" fill="#1a1a1a" stroke="#1a1a1a" stroke-width="0.18" transform="translate(289.40,249.60) rotate(-90)">NKYS</text>
<rect x="293.70" y="267.60" width="69.00" height="11.00" fill="#a0a0a0" stroke="none" stroke-width="0"/>
<rect x="293.70" y="278.60" width="69.00" height="2.70" fill="#f0f0f0" stroke="none" stroke-width="0"/>
<rect x="293.70" y="281.30" width="69.00" height="8.60" fill="#b0b0b0" stroke="none" stroke-width="0"/>
<rect x="293.70" y="289.90" width="69.00" height="3.70" fill="#ececec" stroke="none" stroke-width="0"/>
<rect x="293.70" y="293.60" width="69.00" height="12.40" fill="#a5a5a5" stroke="none" stroke-width="0"/>
<rect x="292.80" y="268.50" width="70.80" height="36.60" fill="none" stroke="#0b0b0b" stroke-width="1.8"/>
<text x="0.00" y="0.00" font-size="9.0" font-weight="400" text-anchor="middle" fill="#1a1a1a" stroke="#1a1a1a" stroke-width="0.18" transform="translate(289.40,285.40) rotate(-90)">KHYG</text>
<rect x="294.25" y="230.30" width="11.50" height="3.20" rx="2.56" ry="1.60" fill="#2a2a2a" fill-opacity="0.82" filter="url(#b1)"/>
<rect x="305.45" y="230.30" width="11.50" height="3.20" rx="2.56" ry="1.60" fill="#2a2a2a" fill-opacity="0.82" filter="url(#b1)"/>
<rect x="316.25" y="230.30" width="11.50" height="3.20" rx="2.56" ry="1.60" fill="#2a2a2a" fill-opacity="0.82" filter="url(#b1)"/>
<rect x="326.95" y="230.30" width="11.50" height="3.20" rx="2.56" ry="1.60" fill="#2a2a2a" fill-opacity="0.82" filter="url(#b1)"/>
<rect x="337.65" y="230.30" width="11.50" height="3.20" rx="2.56" ry="1.60" fill="#2a2a2a" fill-opacity="0.82" filter="url(#b1)"/>
<rect x="349.65" y="230.30" width="11.50" height="3.20" rx="2.56" ry="1.60" fill="#2a2a2a" fill-opacity="0.82" filter="url(#b1)"/>
<rect x="294.50" y="241.60" width="12.00" height="4.40" rx="3.52" ry="2.20" fill="#1a1a1a" fill-opacity="1.00" filter="url(#b1)"/>
<rect x="305.50" y="241.60" width="12.00" height="4.40" rx="3.52" ry="2.20" fill="#1a1a1a" fill-opacity="1.00" filter="url(#b1)"/>
<rect x="317.75" y="242.10" width="10.50" height="3.40" rx="2.72" ry="1.70" fill="#1a1a1a" fill-opacity="0.85" filter="url(#b1)"/>
<rect x="331.00" y="242.80" width="7.00" height="2.00" rx="1.60" ry="1.00" fill="#1a1a1a" fill-opacity="0.35" filter="url(#b1)"/>
<rect x="342.00" y="242.90" width="6.00" height="1.80" rx="1.44" ry="0.90" fill="#1a1a1a" fill-opacity="0.12" filter="url(#b1)"/>
<rect x="353.00" y="242.90" width="6.00" height="1.80" rx="1.44" ry="0.90" fill="#1a1a1a" fill-opacity="0.16" filter="url(#b1)"/>
<rect x="294.00" y="253.50" width="12.00" height="3.40" rx="2.72" ry="1.70" fill="#222" fill-opacity="0.88" filter="url(#b1)"/>
<rect x="305.20" y="254.10" width="12.00" height="3.40" rx="2.72" ry="1.70" fill="#222" fill-opacity="0.88" filter="url(#b1)"/>
<rect x="316.00" y="255.70" width="12.00" height="3.40" rx="2.72" ry="1.70" fill="#222" fill-opacity="0.88" filter="url(#b1)"/>
<rect x="326.70" y="256.30" width="12.00" height="3.40" rx="2.72" ry="1.70" fill="#222" fill-opacity="0.88" filter="url(#b1)"/>
<rect x="337.40" y="256.30" width="12.00" height="3.40" rx="2.72" ry="1.70" fill="#222" fill-opacity="0.88" filter="url(#b1)"/>
<rect x="349.40" y="255.10" width="12.00" height="3.40" rx="2.72" ry="1.70" fill="#222" fill-opacity="0.88" filter="url(#b1)"/>
<rect x="294.25" y="271.50" width="11.50" height="3.40" rx="2.72" ry="1.70" fill="#2a2a2a" fill-opacity="0.82" filter="url(#b1)"/>
<rect x="305.45" y="271.25" width="11.50" height="3.40" rx="2.72" ry="1.70" fill="#2a2a2a" fill-opacity="0.82" filter="url(#b1)"/>
<rect x="316.25" y="271.00" width="11.50" height="3.40" rx="2.72" ry="1.70" fill="#2a2a2a" fill-opacity="0.82" filter="url(#b1)"/>
<rect x="326.95" y="270.75" width="11.50" height="3.40" rx="2.72" ry="1.70" fill="#2a2a2a" fill-opacity="0.82" filter="url(#b1)"/>
<rect x="337.65" y="270.50" width="11.50" height="3.40" rx="2.72" ry="1.70" fill="#2a2a2a" fill-opacity="0.82" filter="url(#b1)"/>
<rect x="349.65" y="270.25" width="11.50" height="3.40" rx="2.72" ry="1.70" fill="#2a2a2a" fill-opacity="0.82" filter="url(#b1)"/>
<rect x="297.20" y="283.20" width="12.00" height="5.00" rx="4.00" ry="2.50" fill="#1a1a1a" fill-opacity="1.00" filter="url(#b1)"/>
<rect x="308.20" y="283.20" width="12.00" height="5.00" rx="4.00" ry="2.50" fill="#1a1a1a" fill-opacity="1.00" filter="url(#b1)"/>
<rect x="319.90" y="283.50" width="11.00" height="4.40" rx="3.52" ry="2.20" fill="#1a1a1a" fill-opacity="0.95" filter="url(#b1)"/>
<rect x="333.60" y="284.40" width="8.00" height="2.60" rx="2.08" ry="1.30" fill="#1a1a1a" fill-opacity="0.60" filter="url(#b1)"/>
<rect x="346.00" y="285.10" width="4.00" height="1.20" rx="0.96" ry="0.60" fill="#1a1a1a" fill-opacity="0.10" filter="url(#b1)"/>
<rect x="356.00" y="285.10" width="4.00" height="1.20" rx="0.96" ry="0.60" fill="#1a1a1a" fill-opacity="0.05" filter="url(#b1)"/>
<rect x="294.00" y="298.70" width="12.00" height="4.40" rx="3.52" ry="2.20" fill="#222" fill-opacity="0.92" filter="url(#b1)"/>
<rect x="305.20" y="298.70" width="12.00" height="4.40" rx="3.52" ry="2.20" fill="#222" fill-opacity="0.92" filter="url(#b1)"/>
<rect x="316.00" y="298.70" width="12.00" height="4.40" rx="3.52" ry="2.20" fill="#222" fill-opacity="0.92" filter="url(#b1)"/>
<rect x="326.70" y="298.70" width="12.00" height="4.40" rx="3.52" ry="2.20" fill="#222" fill-opacity="0.92" filter="url(#b1)"/>
<rect x="337.40" y="298.70" width="12.00" height="4.40" rx="3.52" ry="2.20" fill="#222" fill-opacity="0.92" filter="url(#b1)"/>
<rect x="349.40" y="298.70" width="12.00" height="4.40" rx="3.52" ry="2.20" fill="#222" fill-opacity="0.92" filter="url(#b1)"/>
<text x="372.00" y="236.00" font-size="8.1" font-weight="400" text-anchor="start" fill="#1a1a1a" stroke="#1a1a1a" stroke-width="0.18">EZH2</text>
<text x="372.00" y="248.10" font-size="8.1" font-weight="400" text-anchor="start" fill="#1a1a1a" stroke="#1a1a1a" stroke-width="0.18">H3K27me3</text>
<text x="372.00" y="261.80" font-size="8.1" font-weight="400" text-anchor="start" fill="#1a1a1a" stroke="#1a1a1a" stroke-width="0.18">H3</text>
<text x="372.00" y="276.30" font-size="8.1" font-weight="400" text-anchor="start" fill="#1a1a1a" stroke="#1a1a1a" stroke-width="0.18">EZH2</text>
<text x="372.00" y="290.40" font-size="8.1" font-weight="400" text-anchor="start" fill="#1a1a1a" stroke="#1a1a1a" stroke-width="0.18">H3K27me3</text>
<text x="372.00" y="305.20" font-size="8.1" font-weight="400" text-anchor="start" fill="#1a1a1a" stroke="#1a1a1a" stroke-width="0.18">H3</text>
<text x="7.90" y="339.00" font-size="10.8" font-weight="700" text-anchor="start" fill="#1a1a1a" stroke="#1a1a1a" stroke-width="0.3">E</text>
<line x1="53.50" y1="349.50" x2="53.50" y2="438.30" stroke="#111" stroke-width="1.1"/>
<line x1="50.50" y1="437.80" x2="53.50" y2="437.80" stroke="#111" stroke-width="1.1"/>
<text x="0.00" y="0.00" font-size="8.2" font-weight="400" text-anchor="end" fill="#1a1a1a" stroke="#1a1a1a" stroke-width="0.18" transform="translate(47.00,440.70) scale(0.91,1)">0</text>
<line x1="50.50" y1="425.53" x2="53.50" y2="425.53" stroke="#111" stroke-width="1.1"/>
<text x="0.00" y="0.00" font-size="8.2" font-weight="400" text-anchor="end" fill="#1a1a1a" stroke="#1a1a1a" stroke-width="0.18" transform="translate(47.00,428.43) scale(0.91,1)">20</text>
<line x1="50.50" y1="413.26" x2="53.50" y2="413.26" stroke="#111" stroke-width="1.1"/>
<text x="0.00" y="0.00" font-size="8.2" font-weight="400" text-anchor="end" fill="#1a1a1a" stroke="#1a1a1a" stroke-width="0.18" transform="translate(47.00,416.16) scale(0.91,1)">40</text>
<line x1="50.50" y1="400.99" x2="53.50" y2="400.99" stroke="#111" stroke-width="1.1"/>
<text x="0.00" y="0.00" font-size="8.2" font-weight="400" text-anchor="end" fill="#1a1a1a" stroke="#1a1a1a" stroke-width="0.18" transform="translate(47.00,403.89) scale(0.91,1)">60</text>
<line x1="50.50" y1="388.71" x2="53.50" y2="388.71" stroke="#111" stroke-width="1.1"/>
<text x="0.00" y="0.00" font-size="8.2" font-weight="400" text-anchor="end" fill="#1a1a1a" stroke="#1a1a1a" stroke-width="0.18" transform="translate(47.00,391.61) scale(0.91,1)">80</text>
<line x1="50.50" y1="376.44" x2="53.50" y2="376.44" stroke="#111" stroke-width="1.1"/>
<text x="0.00" y="0.00" font-size="8.2" font-weight="400" text-anchor="end" fill="#1a1a1a" stroke="#1a1a1a" stroke-width="0.18" transform="translate(47.00,379.34) scale(0.91,1)">100</text>
<line x1="50.50" y1="364.17" x2="53.50" y2="364.17" stroke="#111" stroke-width="1.1"/>
<text x="0.00" y="0.00" font-size="8.2" font-weight="400" text-anchor="end" fill="#1a1a1a" stroke="#1a1a1a" stroke-width="0.18" transform="translate(47.00,367.07) scale(0.91,1)">120</text>
<line x1="50.50" y1="351.90" x2="53.50" y2="351.90" stroke="#111" stroke-width="1.1"/>
<text x="0.00" y="0.00" font-size="8.2" font-weight="400" text-anchor="end" fill="#1a1a1a" stroke="#1a1a1a" stroke-width="0.18" transform="translate(47.00,354.80) scale(0.91,1)">140</text>
<line x1="53.00" y1="437.80" x2="149.50" y2="437.80" stroke="#111" stroke-width="1.2"/>
<line x1="72.30" y1="437.80" x2="72.30" y2="440.80" stroke="#111" stroke-width="1.1"/>
<line x1="91.70" y1="437.80" x2="91.70" y2="440.80" stroke="#111" stroke-width="1.1"/>
<line x1="110.90" y1="437.80" x2="110.90" y2="440.80" stroke="#111" stroke-width="1.1"/>
<line x1="129.90" y1="437.80" x2="129.90" y2="440.80" stroke="#111" stroke-width="1.1"/>
<line x1="148.60" y1="437.80" x2="148.60" y2="440.80" stroke="#111" stroke-width="1.1"/>
<text x="63.00" y="449.40" font-size="8.6" font-weight="400" text-anchor="middle" fill="#1a1a1a" stroke="#1a1a1a" stroke-width="0.18">0</text>
<text x="82.00" y="449.40" font-size="8.6" font-weight="400" text-anchor="middle" fill="#1a1a1a" stroke="#1a1a1a" stroke-width="0.18">24h</text>
<text x="101.20" y="449.40" font-size="8.6" font-weight="400" text-anchor="middle" fill="#1a1a1a" stroke="#1a1a1a" stroke-width="0.18">48h</text>
<text x="120.20" y="449.40" font-size="8.6" font-weight="400" text-anchor="middle" fill="#1a1a1a" stroke="#1a1a1a" stroke-width="0.18">72h</text>
<text x="139.00" y="449.40" font-size="8.6" font-weight="400" text-anchor="middle" fill="#1a1a1a" stroke="#1a1a1a" stroke-width="0.18">96h</text>
<polyline points="63.0,376.4 82.0,376.4 101.2,376.4 120.2,376.4 139.0,376.4" fill="none" stroke="#2e4f7f" stroke-width="1.9" stroke-linejoin="round"/>
<path d="M82.0,373.4428571428571 L85.0,376.4428571428571 L82.0,379.4428571428571 L79.0,376.4428571428571 Z" fill="#2e4f7f"/>
<path d="M101.2,373.4428571428571 L104.2,376.4428571428571 L101.2,379.4428571428571 L98.2,376.4428571428571 Z" fill="#2e4f7f"/>
<path d="M120.2,373.4428571428571 L123.2,376.4428571428571 L120.2,379.4428571428571 L117.2,376.4428571428571 Z" fill="#2e4f7f"/>
<path d="M139.0,373.4428571428571 L142.0,376.4428571428571 L139.0,379.4428571428571 L136.0,376.4428571428571 Z" fill="#2e4f7f"/>
<polyline points="63.0,376.4 82.0,382.6 101.2,391.8 120.2,402.2 139.0,407.7" fill="none" stroke="#ae1138" stroke-width="1.9" stroke-linejoin="round"/>
<rect x="79.00" y="379.58" width="6.00" height="6.00" fill="#ae1138"/>
<rect x="98.20" y="388.78" width="6.00" height="6.00" fill="#ae1138"/>
<rect x="117.20" y="399.21" width="6.00" height="6.00" fill="#ae1138"/>
<rect x="136.00" y="404.74" width="6.00" height="6.00" fill="#ae1138"/>
<polyline points="63.0,376.4 82.0,375.2 101.2,375.8 120.2,376.4 139.0,373.4" fill="none" stroke="#b5bf8f" stroke-width="1.9" stroke-linejoin="round"/>
<path d="M82.0,371.9157142857143 L85.3,377.61571428571426 L78.7,377.61571428571426 Z" fill="#b5bf8f"/>
<path d="M101.2,372.52928571428566 L104.5,378.22928571428565 L97.9,378.22928571428565 Z" fill="#b5bf8f"/>
<path d="M120.2,373.1428571428571 L123.5,378.8428571428571 L116.9,378.8428571428571 Z" fill="#b5bf8f"/>
<path d="M139.0,370.075 L142.3,375.775 L135.7,375.775 Z" fill="#b5bf8f"/>
<polyline points="63.0,376.4 82.0,383.8 101.2,397.3 120.2,404.1 139.0,407.7" fill="none" stroke="#5a2a77" stroke-width="1.9" stroke-linejoin="round"/>
<path d="M79.0,380.80571428571426 L85.0,386.80571428571426 M79.0,386.80571428571426 L85.0,380.80571428571426" stroke="#5a2a77" stroke-width="1.2"/>
<path d="M98.2,394.3042857142857 L104.2,400.3042857142857 M98.2,400.3042857142857 L104.2,394.3042857142857" stroke="#5a2a77" stroke-width="1.2"/>
<path d="M117.2,401.05357142857144 L123.2,407.05357142857144 M117.2,407.05357142857144 L123.2,401.05357142857144" stroke="#5a2a77" stroke-width="1.2"/>
<path d="M136.0,404.735 L142.0,410.735 M136.0,410.735 L142.0,404.735" stroke="#5a2a77" stroke-width="1.2"/>
<polyline points="63.0,376.4 82.0,388.7 101.2,399.1 120.2,405.9 139.0,409.6" fill="none" stroke="#79acdc" stroke-width="1.9" stroke-linejoin="round"/>
<rect x="79.00" y="385.71" width="6.00" height="6.00" fill="#79acdc"/>
<rect x="98.20" y="396.14" width="6.00" height="6.00" fill="#79acdc"/>
<rect x="117.20" y="402.89" width="6.00" height="6.00" fill="#79acdc"/>
<rect x="136.00" y="406.58" width="6.00" height="6.00" fill="#79acdc"/>
<polyline points="63.0,376.4 82.0,385.0 101.2,397.9 120.2,405.3 139.0,412.0" fill="none" stroke="#c07a30" stroke-width="1.9" stroke-linejoin="round"/>
<circle cx="82.0" cy="385.03285714285715" r="3.0" fill="#c07a30"/>
<circle cx="101.2" cy="397.91785714285714" r="3.0" fill="#c07a30"/>
<circle cx="120.2" cy="405.2807142857143" r="3.0" fill="#c07a30"/>
<circle cx="139.0" cy="412.03000000000003" r="3.0" fill="#c07a30"/>
<line x1="82.00" y1="385.65" x2="82.00" y2="391.78" stroke="#111" stroke-width="1.1"/>
<line x1="80.00" y1="385.65" x2="84.00" y2="385.65" stroke="#111" stroke-width="1.6"/>
<line x1="80.00" y1="391.78" x2="84.00" y2="391.78" stroke="#111" stroke-width="1.6"/>
<line x1="101.20" y1="394.24" x2="101.20" y2="402.83" stroke="#111" stroke-width="1.1"/>
<line x1="99.20" y1="394.24" x2="103.20" y2="394.24" stroke="#111" stroke-width="1.6"/>
<line x1="99.20" y1="402.83" x2="103.20" y2="402.83" stroke="#111" stroke-width="1.6"/>
<line x1="120.20" y1="399.76" x2="120.20" y2="405.89" stroke="#111" stroke-width="1.1"/>
<line x1="118.20" y1="399.76" x2="122.20" y2="399.76" stroke="#111" stroke-width="1.6"/>
<line x1="118.20" y1="405.89" x2="122.20" y2="405.89" stroke="#111" stroke-width="1.6"/>
<line x1="139.00" y1="367.24" x2="139.00" y2="379.51" stroke="#111" stroke-width="1.1"/>
<line x1="137.00" y1="367.24" x2="141.00" y2="367.24" stroke="#111" stroke-width="1.6"/>
<line x1="137.00" y1="379.51" x2="141.00" y2="379.51" stroke="#111" stroke-width="1.6"/>
<line x1="139.00" y1="409.58" x2="139.00" y2="415.71" stroke="#111" stroke-width="1.1"/>
<line x1="137.00" y1="409.58" x2="141.00" y2="409.58" stroke="#111" stroke-width="1.6"/>
<line x1="137.00" y1="415.71" x2="141.00" y2="415.71" stroke="#111" stroke-width="1.6"/>
<rect x="59.30" y="372.84" width="7.4" height="7.2" fill="#c47f2e"/>
<text x="0.00" y="0.00" font-size="9.0" font-weight="400" text-anchor="middle" fill="#1a1a1a" stroke="#1a1a1a" stroke-width="0.18" transform="translate(27.60,394.00) rotate(-90)">Relative cell survival</text>
<line x1="152.00" y1="370.70" x2="169.50" y2="370.70" stroke="#2e4f7f" stroke-width="1.6"/>
<path d="M160.75,368.7 L162.75,370.7 L160.75,372.7 L158.75,370.7 Z" fill="#2e4f7f"/>
<text x="172.30" y="373.40" font-size="7.8" font-weight="400" text-anchor="start" fill="#1a1a1a" stroke="#1a1a1a" stroke-width="0.18">Ctrl</text>
<line x1="152.00" y1="382.25" x2="169.50" y2="382.25" stroke="#ae1138" stroke-width="1.6"/>
<rect x="158.75" y="380.25" width="4.00" height="4.00" fill="#ae1138"/>
<text x="172.30" y="384.95" font-size="7.8" font-weight="400" text-anchor="start" fill="#1a1a1a" stroke="#1a1a1a" stroke-width="0.18">PF(1µM)</text>
<line x1="152.00" y1="393.80" x2="169.50" y2="393.80" stroke="#b5bf8f" stroke-width="1.6"/>
<path d="M160.75,391.6 L162.95,395.40000000000003 L158.55,395.40000000000003 Z" fill="#b5bf8f"/>
<text x="172.30" y="396.50" font-size="7.8" font-weight="400" text-anchor="start" fill="#1a1a1a" stroke="#1a1a1a" stroke-width="0.18">EPZ(1µM)</text>
<line x1="152.00" y1="405.35" x2="169.50" y2="405.35" stroke="#5a2a77" stroke-width="1.6"/>
<path d="M158.75,403.35 L162.75,407.35 M158.75,407.35 L162.75,403.35" stroke="#5a2a77" stroke-width="1.2"/>
<text x="172.30" y="408.05" font-size="7.8" font-weight="400" text-anchor="start" fill="#1a1a1a" stroke="#1a1a1a" stroke-width="0.18">PF(1µM)+EPZ(10nM)</text>
<line x1="152.00" y1="416.90" x2="169.50" y2="416.90" stroke="#79acdc" stroke-width="1.6"/>
<rect x="158.75" y="414.90" width="4.00" height="4.00" fill="#79acdc"/>
<text x="172.30" y="419.60" font-size="7.8" font-weight="400" text-anchor="start" fill="#1a1a1a" stroke="#1a1a1a" stroke-width="0.18">PF(1µM)+EPZ(100nM)</text>
<line x1="152.00" y1="428.45" x2="169.50" y2="428.45" stroke="#c07a30" stroke-width="1.6"/>
<circle cx="160.75" cy="428.45" r="2.0" fill="#c07a30"/>
<text x="172.30" y="431.15" font-size="7.8" font-weight="400" text-anchor="start" fill="#1a1a1a" stroke="#1a1a1a" stroke-width="0.18">PF(1µM)+EPZ(1µM)</text>
<text x="269.00" y="339.00" font-size="10.8" font-weight="700" text-anchor="start" fill="#1a1a1a" stroke="#1a1a1a" stroke-width="0.3">F</text>
<line x1="313.50" y1="349.30" x2="313.50" y2="438.30" stroke="#111" stroke-width="1.1"/>
<line x1="310.50" y1="437.80" x2="313.50" y2="437.80" stroke="#111" stroke-width="1.1"/>
<text x="0.00" y="0.00" font-size="8.2" font-weight="400" text-anchor="end" fill="#1a1a1a" stroke="#1a1a1a" stroke-width="0.18" transform="translate(307.00,440.70) scale(0.91,1)">0</text>
<line x1="310.50" y1="425.50" x2="313.50" y2="425.50" stroke="#111" stroke-width="1.1"/>
<text x="0.00" y="0.00" font-size="8.2" font-weight="400" text-anchor="end" fill="#1a1a1a" stroke="#1a1a1a" stroke-width="0.18" transform="translate(307.00,428.40) scale(0.91,1)">20</text>
<line x1="310.50" y1="413.20" x2="313.50" y2="413.20" stroke="#111" stroke-width="1.1"/>
<text x="0.00" y="0.00" font-size="8.2" font-weight="400" text-anchor="end" fill="#1a1a1a" stroke="#1a1a1a" stroke-width="0.18" transform="translate(307.00,416.10) scale(0.91,1)">40</text>
<line x1="310.50" y1="400.90" x2="313.50" y2="400.90" stroke="#111" stroke-width="1.1"/>
<text x="0.00" y="0.00" font-size="8.2" font-weight="400" text-anchor="end" fill="#1a1a1a" stroke="#1a1a1a" stroke-width="0.18" transform="translate(307.00,403.80) scale(0.91,1)">60</text>
<line x1="310.50" y1="388.60" x2="313.50" y2="388.60" stroke="#111" stroke-width="1.1"/>
<text x="0.00" y="0.00" font-size="8.2" font-weight="400" text-anchor="end" fill="#1a1a1a" stroke="#1a1a1a" stroke-width="0.18" transform="translate(307.00,391.50) scale(0.91,1)">80</text>
<line x1="310.50" y1="376.30" x2="313.50" y2="376.30" stroke="#111" stroke-width="1.1"/>
<text x="0.00" y="0.00" font-size="8.2" font-weight="400" text-anchor="end" fill="#1a1a1a" stroke="#1a1a1a" stroke-width="0.18" transform="translate(307.00,379.20) scale(0.91,1)">100</text>
<line x1="310.50" y1="364.00" x2="313.50" y2="364.00" stroke="#111" stroke-width="1.1"/>
<text x="0.00" y="0.00" font-size="8.2" font-weight="400" text-anchor="end" fill="#1a1a1a" stroke="#1a1a1a" stroke-width="0.18" transform="translate(307.00,366.90) scale(0.91,1)">120</text>
<line x1="310.50" y1="351.70" x2="313.50" y2="351.70" stroke="#111" stroke-width="1.1"/>
<text x="0.00" y="0.00" font-size="8.2" font-weight="400" text-anchor="end" fill="#1a1a1a" stroke="#1a1a1a" stroke-width="0.18" transform="translate(307.00,354.60) scale(0.91,1)">140</text>
<line x1="313.00" y1="437.80" x2="405.00" y2="437.80" stroke="#111" stroke-width="1.2"/>
<line x1="332.10" y1="437.80" x2="332.10" y2="440.80" stroke="#111" stroke-width="1.1"/>
<line x1="350.50" y1="437.80" x2="350.50" y2="440.80" stroke="#111" stroke-width="1.1"/>
<line x1="368.90" y1="437.80" x2="368.90" y2="440.80" stroke="#111" stroke-width="1.1"/>
<line x1="387.00" y1="437.80" x2="387.00" y2="440.80" stroke="#111" stroke-width="1.1"/>
<line x1="404.50" y1="437.80" x2="404.50" y2="440.80" stroke="#111" stroke-width="1.1"/>
<text x="323.00" y="449.40" font-size="8.6" font-weight="400" text-anchor="middle" fill="#1a1a1a" stroke="#1a1a1a" stroke-width="0.18">0</text>
<text x="341.20" y="449.40" font-size="8.6" font-weight="400" text-anchor="middle" fill="#1a1a1a" stroke="#1a1a1a" stroke-width="0.18">24h</text>
<text x="359.80" y="449.40" font-size="8.6" font-weight="400" text-anchor="middle" fill="#1a1a1a" stroke="#1a1a1a" stroke-width="0.18">48h</text>
<text x="378.00" y="449.40" font-size="8.6" font-weight="400" text-anchor="middle" fill="#1a1a1a" stroke="#1a1a1a" stroke-width="0.18">72h</text>
<text x="396.00" y="449.40" font-size="8.6" font-weight="400" text-anchor="middle" fill="#1a1a1a" stroke="#1a1a1a" stroke-width="0.18">96h</text>
<polyline points="323.0,376.3 341.2,376.3 359.8,376.3 378.0,376.3 396.0,376.3" fill="none" stroke="#2e4f7f" stroke-width="1.9" stroke-linejoin="round"/>
<path d="M341.2,373.3 L344.2,376.3 L341.2,379.3 L338.2,376.3 Z" fill="#2e4f7f"/>
<path d="M359.8,373.3 L362.8,376.3 L359.8,379.3 L356.8,376.3 Z" fill="#2e4f7f"/>
<path d="M378.0,373.3 L381.0,376.3 L378.0,379.3 L375.0,376.3 Z" fill="#2e4f7f"/>
<path d="M396.0,373.3 L399.0,376.3 L396.0,379.3 L393.0,376.3 Z" fill="#2e4f7f"/>
<polyline points="323.0,376.3 341.2,386.8 359.8,403.4 378.0,431.7 396.0,435.3" fill="none" stroke="#ae1138" stroke-width="1.9" stroke-linejoin="round"/>
<rect x="338.20" y="383.75" width="6.00" height="6.00" fill="#ae1138"/>
<rect x="356.80" y="400.36" width="6.00" height="6.00" fill="#ae1138"/>
<rect x="375.00" y="428.65" width="6.00" height="6.00" fill="#ae1138"/>
<rect x="393.00" y="432.34" width="6.00" height="6.00" fill="#ae1138"/>
<polyline points="323.0,376.3 341.2,372.0 359.8,374.5 378.0,376.9 396.0,370.8" fill="none" stroke="#b5bf8f" stroke-width="1.9" stroke-linejoin="round"/>
<path d="M341.2,368.695 L344.5,374.395 L337.9,374.395 Z" fill="#b5bf8f"/>
<path d="M359.8,371.155 L363.1,376.85499999999996 L356.5,376.85499999999996 Z" fill="#b5bf8f"/>
<path d="M378.0,373.61499999999995 L381.3,379.31499999999994 L374.7,379.31499999999994 Z" fill="#b5bf8f"/>
<path d="M396.0,367.465 L399.3,373.16499999999996 L392.7,373.16499999999996 Z" fill="#b5bf8f"/>
<polyline points="323.0,376.3 341.2,385.5 359.8,403.4 378.0,431.0 396.0,434.7" fill="none" stroke="#5a2a77" stroke-width="1.9" stroke-linejoin="round"/>
<path d="M338.2,382.525 L344.2,388.525 M338.2,388.525 L344.2,382.525" stroke="#5a2a77" stroke-width="1.2"/>
<path d="M356.8,400.36 L362.8,406.36 M356.8,406.36 L362.8,400.36" stroke="#5a2a77" stroke-width="1.2"/>
<path d="M375.0,428.035 L381.0,434.035 M375.0,434.035 L381.0,428.035" stroke="#5a2a77" stroke-width="1.2"/>
<path d="M393.0,431.725 L399.0,437.725 M393.0,437.725 L399.0,431.725" stroke="#5a2a77" stroke-width="1.2"/>
<polyline points="323.0,376.3 341.2,384.9 359.8,402.7 378.0,428.0 396.0,432.9" fill="none" stroke="#79acdc" stroke-width="1.9" stroke-linejoin="round"/>
<rect x="338.20" y="381.91" width="6.00" height="6.00" fill="#79acdc"/>
<rect x="356.80" y="399.75" width="6.00" height="6.00" fill="#79acdc"/>
<rect x="375.00" y="424.96" width="6.00" height="6.00" fill="#79acdc"/>
<rect x="393.00" y="429.88" width="6.00" height="6.00" fill="#79acdc"/>
<polyline points="323.0,376.3 341.2,384.3 359.8,403.4 378.0,424.9 396.0,431.0" fill="none" stroke="#c07a30" stroke-width="1.9" stroke-linejoin="round"/>
<circle cx="341.2" cy="384.295" r="3.0" fill="#c07a30"/>
<circle cx="359.8" cy="403.36" r="3.0" fill="#c07a30"/>
<circle cx="378.0" cy="424.885" r="3.0" fill="#c07a30"/>
<circle cx="396.0" cy="431.035" r="3.0" fill="#c07a30"/>
<line x1="359.80" y1="397.21" x2="359.80" y2="409.51" stroke="#111" stroke-width="1.1"/>
<line x1="357.80" y1="397.21" x2="361.80" y2="397.21" stroke="#111" stroke-width="1.6"/>
<line x1="357.80" y1="409.51" x2="361.80" y2="409.51" stroke="#111" stroke-width="1.6"/>
<line x1="378.00" y1="419.97" x2="378.00" y2="429.81" stroke="#111" stroke-width="1.1"/>
<line x1="376.00" y1="419.97" x2="380.00" y2="419.97" stroke="#111" stroke-width="1.6"/>
<line x1="376.00" y1="429.81" x2="380.00" y2="429.81" stroke="#111" stroke-width="1.6"/>
<line x1="396.00" y1="367.07" x2="396.00" y2="374.45" stroke="#111" stroke-width="1.1"/>
<line x1="394.00" y1="367.07" x2="398.00" y2="367.07" stroke="#111" stroke-width="1.6"/>
<line x1="394.00" y1="374.45" x2="398.00" y2="374.45" stroke="#111" stroke-width="1.6"/>
<line x1="396.00" y1="428.57" x2="396.00" y2="433.50" stroke="#111" stroke-width="1.1"/>
<line x1="394.00" y1="428.57" x2="398.00" y2="428.57" stroke="#111" stroke-width="1.6"/>
<line x1="394.00" y1="433.50" x2="398.00" y2="433.50" stroke="#111" stroke-width="1.6"/>
<line x1="341.20" y1="368.31" x2="341.20" y2="375.69" stroke="#111" stroke-width="1.1"/>
<line x1="339.20" y1="368.31" x2="343.20" y2="368.31" stroke="#111" stroke-width="1.6"/>
<line x1="339.20" y1="375.69" x2="343.20" y2="375.69" stroke="#111" stroke-width="1.6"/>
<rect x="319.30" y="372.70" width="7.4" height="7.2" fill="#c47f2e"/>
<text x="0.00" y="0.00" font-size="9.0" font-weight="400" text-anchor="middle" fill="#1a1a1a" stroke="#1a1a1a" stroke-width="0.18" transform="translate(288.20,394.00) rotate(-90)">Relative cell survival</text>
<line x1="408.50" y1="366.50" x2="425.80" y2="366.50" stroke="#2e4f7f" stroke-width="1.6"/>
<path d="M417.15,364.5 L419.15,366.5 L417.15,368.5 L415.15,366.5 Z" fill="#2e4f7f"/>
<text x="428.80" y="369.20" font-size="7.8" font-weight="400" text-anchor="start" fill="#1a1a1a" stroke="#1a1a1a" stroke-width="0.18">Ctrl</text>
<line x1="408.50" y1="378.10" x2="425.80" y2="378.10" stroke="#ae1138" stroke-width="1.6"/>
<rect x="415.15" y="376.10" width="4.00" height="4.00" fill="#ae1138"/>
<text x="428.80" y="380.80" font-size="7.8" font-weight="400" text-anchor="start" fill="#1a1a1a" stroke="#1a1a1a" stroke-width="0.18">PF(10nM)</text>
<line x1="408.50" y1="389.70" x2="425.80" y2="389.70" stroke="#b5bf8f" stroke-width="1.6"/>
<path d="M417.15,387.5 L419.34999999999997,391.3 L414.95,391.3 Z" fill="#b5bf8f"/>
<text x="428.80" y="392.40" font-size="7.8" font-weight="400" text-anchor="start" fill="#1a1a1a" stroke="#1a1a1a" stroke-width="0.18">EPZ(1µM)</text>
<line x1="408.50" y1="401.30" x2="425.80" y2="401.30" stroke="#5a2a77" stroke-width="1.6"/>
<path d="M415.15,399.3 L419.15,403.3 M415.15,403.3 L419.15,399.3" stroke="#5a2a77" stroke-width="1.2"/>
<text x="428.80" y="404.00" font-size="7.8" font-weight="400" text-anchor="start" fill="#1a1a1a" stroke="#1a1a1a" stroke-width="0.18">PF(10nM)+EPZ(10nM)</text>
<line x1="408.50" y1="412.90" x2="425.80" y2="412.90" stroke="#79acdc" stroke-width="1.6"/>
<rect x="415.15" y="410.90" width="4.00" height="4.00" fill="#79acdc"/>
<text x="428.80" y="415.60" font-size="7.8" font-weight="400" text-anchor="start" fill="#1a1a1a" stroke="#1a1a1a" stroke-width="0.18">PF(10nM)+EPZ(100nM)</text>
<line x1="408.50" y1="424.50" x2="425.80" y2="424.50" stroke="#c07a30" stroke-width="1.6"/>
<circle cx="417.15" cy="424.5" r="2.0" fill="#c07a30"/>
<text x="428.80" y="427.20" font-size="7.8" font-weight="400" text-anchor="start" fill="#1a1a1a" stroke="#1a1a1a" stroke-width="0.18">PF(10nM)+EPZ(1µM)</text>
<text x="7.80" y="477.00" font-size="10.8" font-weight="700" text-anchor="start" fill="#1a1a1a" stroke="#1a1a1a" stroke-width="0.3">G</text>
<text x="41.90" y="496.30" font-size="9.0" font-weight="400" text-anchor="middle" fill="#1a1a1a" stroke="#1a1a1a" stroke-width="0.18">3 d</text>
<text x="86.00" y="496.30" font-size="9.0" font-weight="400" text-anchor="middle" fill="#1a1a1a" stroke="#1a1a1a" stroke-width="0.18">7 d</text>
<path d="M19.8,503.2 V499.2 H62.6 V503.2" stroke="#111" stroke-width="1.3" fill="none"/>
<path d="M67.2,503.2 V499.2 H110.2 V503.2" stroke="#111" stroke-width="1.3" fill="none"/>
<text x="27.20" y="510.50" font-size="7.6" font-weight="400" text-anchor="middle" fill="#1a1a1a" stroke="#1a1a1a" stroke-width="0.18">0</text>
<text x="42.20" y="510.50" font-size="7.6" font-weight="400" text-anchor="middle" fill="#1a1a1a" stroke="#1a1a1a" stroke-width="0.18">2.5</text>
<text x="57.60" y="510.50" font-size="7.6" font-weight="400" text-anchor="middle" fill="#1a1a1a" stroke="#1a1a1a" stroke-width="0.18">10</text>
<text x="73.30" y="510.50" font-size="7.6" font-weight="400" text-anchor="middle" fill="#1a1a1a" stroke="#1a1a1a" stroke-width="0.18">0</text>
<text x="88.80" y="510.50" font-size="7.6" font-weight="400" text-anchor="middle" fill="#1a1a1a" stroke="#1a1a1a" stroke-width="0.18">2.5</text>
<text x="102.60" y="510.50" font-size="7.6" font-weight="400" text-anchor="middle" fill="#1a1a1a" stroke="#1a1a1a" stroke-width="0.18">10</text>
<text x="113.20" y="502.00" font-size="7.4" font-weight="400" text-anchor="start" fill="#1a1a1a" stroke="#1a1a1a" stroke-width="0.18">SAH-EZH2</text>
<text x="114.20" y="510.40" font-size="7.4" font-weight="400" text-anchor="start" fill="#1a1a1a" stroke="#1a1a1a" stroke-width="0.18">µM</text>
<rect x="18.90" y="513.10" width="92.10" height="16.30" fill="#b2a998" stroke="#0c0c0c" stroke-width="1.6"/>
<text x="115.80" y="528.00" font-size="7.2" font-weight="400" text-anchor="start" fill="#1a1a1a" stroke="#1a1a1a" stroke-width="0.18">EZH2</text>
<rect x="18.90" y="532.90" width="92.10" height="14.90" fill="#b2a998" stroke="#0c0c0c" stroke-width="1.6"/>
<text x="115.80" y="543.30" font-size="7.2" font-weight="400" text-anchor="start" fill="#1a1a1a" stroke="#1a1a1a" stroke-width="0.18">H3K27me3</text>
<rect x="18.90" y="551.70" width="92.10" height="15.70" fill="#b2a998" stroke="#0c0c0c" stroke-width="1.6"/>
<text x="115.80" y="563.50" font-size="7.2" font-weight="400" text-anchor="start" fill="#1a1a1a" stroke="#1a1a1a" stroke-width="0.18">H3</text>
<rect x="18.90" y="570.90" width="92.10" height="12.50" fill="#b2a998" stroke="#0c0c0c" stroke-width="1.6"/>
<text x="115.80" y="580.20" font-size="7.2" font-weight="400" text-anchor="start" fill="#1a1a1a" stroke="#1a1a1a" stroke-width="0.18">EED</text>
<rect x="18.90" y="586.60" width="92.10" height="13.20" fill="#b2a998" stroke="#0c0c0c" stroke-width="1.6"/>
<text x="115.80" y="595.50" font-size="7.2" font-weight="400" text-anchor="start" fill="#1a1a1a" stroke="#1a1a1a" stroke-width="0.18">SUZ12</text>
<rect x="18.90" y="603.10" width="92.10" height="13.60" fill="#b2a998" stroke="#0c0c0c" stroke-width="1.6"/>
<text x="115.80" y="612.60" font-size="7.2" font-weight="400" text-anchor="start" fill="#1a1a1a" stroke="#1a1a1a" stroke-width="0.18">Actin</text>
<rect x="20.70" y="519.10" width="13.00" height="2.60" rx="2.08" ry="1.30" fill="#231d12" fill-opacity="0.75" filter="url(#b1)"/>
<rect x="35.70" y="519.10" width="13.00" height="2.60" rx="2.08" ry="1.30" fill="#231d12" fill-opacity="0.75" filter="url(#b1)"/>
<rect x="51.10" y="519.10" width="13.00" height="2.60" rx="2.08" ry="1.30" fill="#231d12" fill-opacity="0.75" filter="url(#b1)"/>
<rect x="66.80" y="519.10" width="13.00" height="2.60" rx="2.08" ry="1.30" fill="#231d12" fill-opacity="0.75" filter="url(#b1)"/>
<rect x="82.30" y="518.20" width="13.00" height="2.60" rx="2.08" ry="1.30" fill="#231d12" fill-opacity="0.90" filter="url(#b1)"/>
<rect x="96.10" y="518.20" width="13.00" height="2.60" rx="2.08" ry="1.30" fill="#231d12" fill-opacity="0.90" filter="url(#b1)"/>
<rect x="21.20" y="538.70" width="12.00" height="3.00" rx="2.40" ry="1.50" fill="#231d12" fill-opacity="0.95" filter="url(#b1)"/>
<rect x="35.95" y="538.40" width="12.50" height="3.60" rx="2.88" ry="1.80" fill="#231d12" fill-opacity="1.00" filter="url(#b1)"/>
<rect x="66.55" y="537.60" width="13.50" height="5.20" rx="4.16" ry="2.60" fill="#231d12" fill-opacity="1.00" filter="url(#b1)"/>
<rect x="86.80" y="539.50" width="4.00" height="1.40" rx="1.12" ry="0.70" fill="#231d12" fill-opacity="0.25" filter="url(#b1)"/>
<rect x="20.20" y="554.90" width="14.00" height="4.60" rx="3.68" ry="2.30" fill="#231d12" fill-opacity="0.92" filter="url(#b1)"/>
<rect x="35.20" y="554.90" width="14.00" height="4.60" rx="3.68" ry="2.30" fill="#231d12" fill-opacity="0.92" filter="url(#b1)"/>
<rect x="50.60" y="554.90" width="14.00" height="4.60" rx="3.68" ry="2.30" fill="#231d12" fill-opacity="0.92" filter="url(#b1)"/>
<rect x="66.30" y="554.90" width="14.00" height="4.60" rx="3.68" ry="2.30" fill="#231d12" fill-opacity="0.92" filter="url(#b1)"/>
<rect x="81.30" y="554.70" width="15.00" height="5.80" rx="4.64" ry="2.90" fill="#231d12" fill-opacity="0.92" filter="url(#b1)"/>
<rect x="95.60" y="554.90" width="14.00" height="4.60" rx="3.68" ry="2.30" fill="#231d12" fill-opacity="0.92" filter="url(#b1)"/>
<rect x="20.45" y="574.40" width="13.50" height="3.20" rx="2.56" ry="1.60" fill="#231d12" fill-opacity="0.82" filter="url(#b1)"/>
<rect x="35.45" y="574.40" width="13.50" height="3.20" rx="2.56" ry="1.60" fill="#231d12" fill-opacity="0.82" filter="url(#b1)"/>
<rect x="50.85" y="574.40" width="13.50" height="3.20" rx="2.56" ry="1.60" fill="#231d12" fill-opacity="0.82" filter="url(#b1)"/>
<rect x="66.55" y="574.40" width="13.50" height="3.20" rx="2.56" ry="1.60" fill="#231d12" fill-opacity="0.82" filter="url(#b1)"/>
<rect x="82.05" y="574.40" width="13.50" height="3.20" rx="2.56" ry="1.60" fill="#231d12" fill-opacity="0.82" filter="url(#b1)"/>
<rect x="95.85" y="574.40" width="13.50" height="3.20" rx="2.56" ry="1.60" fill="#231d12" fill-opacity="0.82" filter="url(#b1)"/>
<rect x="20.70" y="588.10" width="13.00" height="3.40" rx="2.72" ry="1.70" fill="#231d12" fill-opacity="0.85" filter="url(#b1)"/>
<rect x="35.70" y="590.90" width="13.00" height="3.40" rx="2.72" ry="1.70" fill="#231d12" fill-opacity="0.85" filter="url(#b1)"/>
<rect x="51.10" y="590.90" width="13.00" height="3.40" rx="2.72" ry="1.70" fill="#231d12" fill-opacity="0.85" filter="url(#b1)"/>
<rect x="66.80" y="590.90" width="13.00" height="3.40" rx="2.72" ry="1.70" fill="#231d12" fill-opacity="0.85" filter="url(#b1)"/>
<rect x="81.80" y="589.80" width="14.00" height="5.60" rx="4.48" ry="2.80" fill="#231d12" fill-opacity="1.00" filter="url(#b1)"/>
<rect x="96.10" y="590.90" width="13.00" height="3.40" rx="2.72" ry="1.70" fill="#231d12" fill-opacity="0.85" filter="url(#b1)"/>
<rect x="20.20" y="607.70" width="14.00" height="4.20" rx="3.36" ry="2.10" fill="#231d12" fill-opacity="0.95" filter="url(#b1)"/>
<rect x="35.20" y="607.70" width="14.00" height="4.20" rx="3.36" ry="2.10" fill="#231d12" fill-opacity="0.95" filter="url(#b1)"/>
<rect x="50.60" y="607.70" width="14.00" height="4.20" rx="3.36" ry="2.10" fill="#231d12" fill-opacity="0.95" filter="url(#b1)"/>
<rect x="66.30" y="607.70" width="14.00" height="4.20" rx="3.36" ry="2.10" fill="#231d12" fill-opacity="0.95" filter="url(#b1)"/>
<rect x="81.80" y="607.70" width="14.00" height="4.20" rx="3.36" ry="2.10" fill="#231d12" fill-opacity="0.95" filter="url(#b1)"/>
<rect x="95.60" y="607.70" width="14.00" height="4.20" rx="3.36" ry="2.10" fill="#231d12" fill-opacity="0.95" filter="url(#b1)"/>
<text x="168.90" y="476.60" font-size="10.8" font-weight="700" text-anchor="start" fill="#1a1a1a" stroke="#1a1a1a" stroke-width="0.3">H</text>
<line x1="216.00" y1="489.00" x2="216.00" y2="581.90" stroke="#111" stroke-width="1.1"/>
<line x1="213.00" y1="581.40" x2="216.00" y2="581.40" stroke="#111" stroke-width="1.1"/>
<text x="208.60" y="584.30" font-size="8.3" font-weight="400" text-anchor="end" fill="#1a1a1a" stroke="#1a1a1a" stroke-width="0.18">0</text>
<line x1="213.00" y1="566.48" x2="216.00" y2="566.48" stroke="#111" stroke-width="1.1"/>
<text x="208.60" y="569.38" font-size="8.3" font-weight="400" text-anchor="end" fill="#1a1a1a" stroke="#1a1a1a" stroke-width="0.18">20</text>
<line x1="213.00" y1="551.57" x2="216.00" y2="551.57" stroke="#111" stroke-width="1.1"/>
<text x="208.60" y="554.47" font-size="8.3" font-weight="400" text-anchor="end" fill="#1a1a1a" stroke="#1a1a1a" stroke-width="0.18">40</text>
<line x1="213.00" y1="536.65" x2="216.00" y2="536.65" stroke="#111" stroke-width="1.1"/>
<text x="208.60" y="539.55" font-size="8.3" font-weight="400" text-anchor="end" fill="#1a1a1a" stroke="#1a1a1a" stroke-width="0.18">60</text>
<line x1="213.00" y1="521.73" x2="216.00" y2="521.73" stroke="#111" stroke-width="1.1"/>
<text x="208.60" y="524.63" font-size="8.3" font-weight="400" text-anchor="end" fill="#1a1a1a" stroke="#1a1a1a" stroke-width="0.18">80</text>
<line x1="213.00" y1="506.82" x2="216.00" y2="506.82" stroke="#111" stroke-width="1.1"/>
<text x="208.60" y="509.72" font-size="8.3" font-weight="400" text-anchor="end" fill="#1a1a1a" stroke="#1a1a1a" stroke-width="0.18">100</text>
<line x1="213.00" y1="491.90" x2="216.00" y2="491.90" stroke="#111" stroke-width="1.1"/>
<text x="208.60" y="494.80" font-size="8.3" font-weight="400" text-anchor="end" fill="#1a1a1a" stroke="#1a1a1a" stroke-width="0.18">120</text>
<line x1="215.50" y1="581.40" x2="271.50" y2="581.40" stroke="#111" stroke-width="1.2"/>
<line x1="216.00" y1="581.40" x2="216.00" y2="584.40" stroke="#111" stroke-width="1.1"/>
<line x1="241.20" y1="581.40" x2="241.20" y2="584.40" stroke="#111" stroke-width="1.1"/>
<line x1="267.80" y1="581.40" x2="267.80" y2="584.40" stroke="#111" stroke-width="1.1"/>
<text x="0.00" y="0.00" font-size="9.1" font-weight="400" text-anchor="middle" fill="#1a1a1a" stroke="#1a1a1a" stroke-width="0.18" transform="translate(188.00,534.60) rotate(-90)">Cell cycle distribution (%)</text>
<rect x="223.00" y="579.16" width="10.80" height="2.24" fill="#7ea8d0" stroke="none" stroke-width="0"/>
<rect x="223.00" y="547.84" width="10.80" height="31.32" fill="#aa0131" stroke="none" stroke-width="0"/>
<rect x="223.00" y="526.95" width="10.80" height="20.88" fill="#b3be8d" stroke="none" stroke-width="0"/>
<rect x="223.00" y="506.82" width="10.80" height="20.14" fill="#4e2266" stroke="none" stroke-width="0"/>
<rect x="249.40" y="576.18" width="10.80" height="5.22" fill="#7ea8d0" stroke="none" stroke-width="0"/>
<rect x="249.40" y="542.62" width="10.80" height="33.56" fill="#aa0131" stroke="none" stroke-width="0"/>
<rect x="249.40" y="528.45" width="10.80" height="14.17" fill="#b3be8d" stroke="none" stroke-width="0"/>
<rect x="249.40" y="506.82" width="10.80" height="21.63" fill="#4e2266" stroke="none" stroke-width="0"/>
<text x="228.40" y="595.20" font-size="8.6" font-weight="400" text-anchor="middle" fill="#1a1a1a" stroke="#1a1a1a" stroke-width="0.18">Ctrl</text>
<text x="254.80" y="595.20" font-size="8.6" font-weight="400" text-anchor="middle" fill="#1a1a1a" stroke="#1a1a1a" stroke-width="0.18">PF</text>
<text x="194.00" y="606.60" font-size="7.8" font-weight="400" text-anchor="middle" fill="#1a1a1a" stroke="#1a1a1a" stroke-width="0.18">sub-G1</text>
<text x="193.80" y="617.80" font-size="7.8" font-weight="400" text-anchor="middle" fill="#1a1a1a" stroke="#1a1a1a" stroke-width="0.18">S</text>
<text x="215.60" y="606.60" font-size="7.8" font-weight="400" text-anchor="start" fill="#1a1a1a" stroke="#1a1a1a" stroke-width="0.18">3±0.04</text>
<text x="245.60" y="606.60" font-size="7.8" font-weight="400" text-anchor="start" fill="#1a1a1a" stroke="#1a1a1a" stroke-width="0.18">7±0.1</text>
<text x="215.60" y="617.80" font-size="7.8" font-weight="400" text-anchor="start" fill="#1a1a1a" stroke="#1a1a1a" stroke-width="0.18">28±0.9</text>
<text x="245.60" y="617.80" font-size="7.8" font-weight="400" text-anchor="start" fill="#1a1a1a" stroke="#1a1a1a" stroke-width="0.18">19±1.5</text>
<rect x="271.20" y="507.10" width="4.60" height="4.60" fill="#4e2266" stroke="none" stroke-width="0"/>
<text x="279.00" y="511.70" font-size="7.8" font-weight="400" text-anchor="start" fill="#1a1a1a" stroke="#1a1a1a" stroke-width="0.18">G2/M</text>
<rect x="271.20" y="518.70" width="4.60" height="4.60" fill="#b3be8d" stroke="none" stroke-width="0"/>
<text x="279.00" y="523.30" font-size="7.8" font-weight="400" text-anchor="start" fill="#1a1a1a" stroke="#1a1a1a" stroke-width="0.18">S</text>
<rect x="271.20" y="530.80" width="4.60" height="4.60" fill="#aa0131" stroke="none" stroke-width="0"/>
<text x="279.00" y="535.40" font-size="7.8" font-weight="400" text-anchor="start" fill="#1a1a1a" stroke="#1a1a1a" stroke-width="0.18">G1</text>
<rect x="271.20" y="542.30" width="4.60" height="4.60" fill="#7ea8d0" stroke="none" stroke-width="0"/>
<text x="279.00" y="546.90" font-size="7.8" font-weight="400" text-anchor="start" fill="#1a1a1a" stroke="#1a1a1a" stroke-width="0.18">sub-G1</text>
<text x="321.00" y="476.60" font-size="10.8" font-weight="700" text-anchor="start" fill="#1a1a1a" stroke="#1a1a1a" stroke-width="0.3">I</text>
<line x1="361.80" y1="524.40" x2="361.80" y2="581.70" stroke="#111" stroke-width="1.1"/>
<line x1="358.80" y1="581.20" x2="361.80" y2="581.20" stroke="#111" stroke-width="1.1"/>
<text x="355.60" y="583.90" font-size="7.9" font-weight="400" text-anchor="end" fill="#1a1a1a" stroke="#1a1a1a" stroke-width="0.18">0</text>
<line x1="358.80" y1="572.03" x2="361.80" y2="572.03" stroke="#111" stroke-width="1.1"/>
<text x="355.60" y="574.73" font-size="7.9" font-weight="400" text-anchor="end" fill="#1a1a1a" stroke="#1a1a1a" stroke-width="0.18">20</text>
<line x1="358.80" y1="562.87" x2="361.80" y2="562.87" stroke="#111" stroke-width="1.1"/>
<text x="355.60" y="565.57" font-size="7.9" font-weight="400" text-anchor="end" fill="#1a1a1a" stroke="#1a1a1a" stroke-width="0.18">40</text>
<line x1="358.80" y1="553.70" x2="361.80" y2="553.70" stroke="#111" stroke-width="1.1"/>
<text x="355.60" y="556.40" font-size="7.9" font-weight="400" text-anchor="end" fill="#1a1a1a" stroke="#1a1a1a" stroke-width="0.18">60</text>
<line x1="358.80" y1="544.53" x2="361.80" y2="544.53" stroke="#111" stroke-width="1.1"/>
<text x="355.60" y="547.23" font-size="7.9" font-weight="400" text-anchor="end" fill="#1a1a1a" stroke="#1a1a1a" stroke-width="0.18">80</text>
<line x1="358.80" y1="535.37" x2="361.80" y2="535.37" stroke="#111" stroke-width="1.1"/>
<text x="355.60" y="538.07" font-size="7.9" font-weight="400" text-anchor="end" fill="#1a1a1a" stroke="#1a1a1a" stroke-width="0.18">100</text>
<line x1="358.80" y1="526.20" x2="361.80" y2="526.20" stroke="#111" stroke-width="1.1"/>
<text x="355.60" y="528.90" font-size="7.9" font-weight="400" text-anchor="end" fill="#1a1a1a" stroke="#1a1a1a" stroke-width="0.18">120</text>
<line x1="361.30" y1="581.20" x2="471.00" y2="581.20" stroke="#111" stroke-width="1.2"/>
<line x1="361.80" y1="581.20" x2="361.80" y2="584.20" stroke="#111" stroke-width="1.0"/>
<line x1="383.00" y1="581.20" x2="383.00" y2="584.20" stroke="#111" stroke-width="1.0"/>
<line x1="404.80" y1="581.20" x2="404.80" y2="584.20" stroke="#111" stroke-width="1.0"/>
<line x1="426.60" y1="581.20" x2="426.60" y2="584.20" stroke="#111" stroke-width="1.0"/>
<line x1="448.20" y1="581.20" x2="448.20" y2="584.20" stroke="#111" stroke-width="1.0"/>
<line x1="469.80" y1="581.20" x2="469.80" y2="584.20" stroke="#111" stroke-width="1.0"/>
<text x="0.00" y="0.00" font-size="8.7" font-weight="400" text-anchor="middle" fill="#1a1a1a" stroke="#1a1a1a" stroke-width="0.18" transform="translate(336.00,552.00) rotate(-90)">Relative cell survival</text>
<rect x="368.40" y="535.37" width="9.20" height="45.83" fill="#4b1f62" stroke="none" stroke-width="0"/>
<line x1="373.00" y1="529.41" x2="373.00" y2="541.33" stroke="#111" stroke-width="1.0"/>
<line x1="371.20" y1="529.41" x2="374.80" y2="529.41" stroke="#111" stroke-width="1.3"/>
<line x1="371.20" y1="541.33" x2="374.80" y2="541.33" stroke="#111" stroke-width="1.3"/>
<text x="373.00" y="588.40" font-size="6.6" font-weight="400" text-anchor="middle" fill="#1a1a1a" stroke="#1a1a1a" stroke-width="0.18">–</text>
<text x="0.00" y="0.00" font-size="8.2" font-weight="400" text-anchor="end" fill="#1a1a1a" stroke="#1a1a1a" stroke-width="0.18" transform="translate(375.80,594.00) rotate(-45)">Vec</text>
<rect x="389.90" y="557.37" width="9.20" height="23.83" fill="#b5bf8f" stroke="none" stroke-width="0"/>
<line x1="394.50" y1="554.16" x2="394.50" y2="560.58" stroke="#111" stroke-width="1.0"/>
<line x1="392.70" y1="554.16" x2="396.30" y2="554.16" stroke="#111" stroke-width="1.3"/>
<line x1="392.70" y1="560.58" x2="396.30" y2="560.58" stroke="#111" stroke-width="1.3"/>
<text x="394.50" y="588.40" font-size="6.6" font-weight="400" text-anchor="middle" fill="#1a1a1a" stroke="#1a1a1a" stroke-width="0.18">+</text>
<text x="0.00" y="0.00" font-size="8.2" font-weight="400" text-anchor="end" fill="#1a1a1a" stroke="#1a1a1a" stroke-width="0.18" transform="translate(397.30,594.00) rotate(-45)">Vec</text>
<rect x="411.20" y="546.83" width="9.20" height="34.38" fill="#ab0532" stroke="none" stroke-width="0"/>
<line x1="415.80" y1="545.45" x2="415.80" y2="548.20" stroke="#111" stroke-width="1.0"/>
<line x1="414.00" y1="545.45" x2="417.60" y2="545.45" stroke="#111" stroke-width="1.3"/>
<line x1="414.00" y1="548.20" x2="417.60" y2="548.20" stroke="#111" stroke-width="1.3"/>
<text x="415.80" y="588.40" font-size="6.6" font-weight="400" text-anchor="middle" fill="#1a1a1a" stroke="#1a1a1a" stroke-width="0.18">+</text>
<text x="0.00" y="0.00" font-size="8.2" font-weight="400" text-anchor="end" fill="#1a1a1a" stroke="#1a1a1a" stroke-width="0.18" transform="translate(418.60,594.00) rotate(-45)">EZH2 WT</text>
<rect x="432.80" y="559.66" width="9.20" height="21.54" fill="#72aadd" stroke="none" stroke-width="0"/>
<line x1="437.40" y1="558.74" x2="437.40" y2="560.58" stroke="#111" stroke-width="1.0"/>
<line x1="435.60" y1="558.74" x2="439.20" y2="558.74" stroke="#111" stroke-width="1.3"/>
<line x1="435.60" y1="560.58" x2="439.20" y2="560.58" stroke="#111" stroke-width="1.3"/>
<text x="437.40" y="588.40" font-size="6.6" font-weight="400" text-anchor="middle" fill="#1a1a1a" stroke="#1a1a1a" stroke-width="0.18">+</text>
<text x="0.00" y="0.00" font-size="8.2" font-weight="400" text-anchor="end" fill="#1a1a1a" stroke="#1a1a1a" stroke-width="0.18" transform="translate(440.20,594.00) rotate(-45)">EZH2 Y244A</text>
<rect x="454.30" y="533.08" width="9.20" height="48.12" fill="#2d4f81" stroke="none" stroke-width="0"/>
<line x1="458.90" y1="529.87" x2="458.90" y2="536.28" stroke="#111" stroke-width="1.0"/>
<line x1="457.10" y1="529.87" x2="460.70" y2="529.87" stroke="#111" stroke-width="1.3"/>
<line x1="457.10" y1="536.28" x2="460.70" y2="536.28" stroke="#111" stroke-width="1.3"/>
<text x="458.90" y="588.40" font-size="6.6" font-weight="400" text-anchor="middle" fill="#1a1a1a" stroke="#1a1a1a" stroke-width="0.18">+</text>
<text x="0.00" y="0.00" font-size="8.2" font-weight="400" text-anchor="end" fill="#1a1a1a" stroke="#1a1a1a" stroke-width="0.18" transform="translate(461.70,594.00) rotate(-45)">EZH2 Y244D</text>
<text x="475.20" y="589.20" font-size="8.4" font-weight="400" text-anchor="start" fill="#1a1a1a" stroke="#1a1a1a" stroke-width="0.18">PF</text>
<path d="M414.6,537.0 V528.5 H436.5 V555.5" stroke="#111" stroke-width="1.2" fill="none"/>
<path d="M438.6,553.8 V516.6 H460.5 V527.8" stroke="#111" stroke-width="1.2" fill="none"/>
<text x="425.40" y="527.00" font-size="8.0" font-weight="400" text-anchor="middle" fill="#1a1a1a" stroke="#1a1a1a" stroke-width="0.18">*</text>
<text x="449.20" y="515.00" font-size="8.0" font-weight="400" text-anchor="middle" fill="#1a1a1a" stroke="#1a1a1a" stroke-width="0.18">*</text>
<rect x="0.6" y="0.6" width="518.6" height="634.6" fill="none" stroke="#0a0a0a" stroke-width="1.4"/>
</svg>
</body></html>
